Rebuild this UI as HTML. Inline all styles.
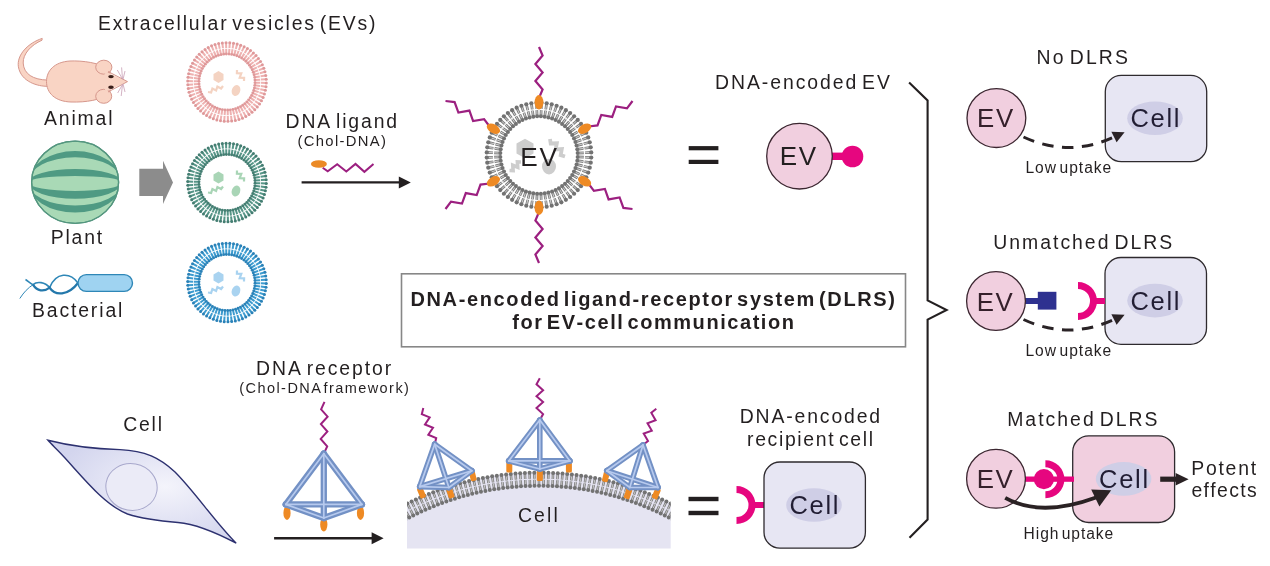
<!DOCTYPE html>
<html><head><meta charset="utf-8"><style>
html,body{margin:0;padding:0;background:#fff;}
svg{display:block;will-change:transform;font-family:"Liberation Sans",sans-serif;font-kerning:none;}
</style></head><body>
<svg width="1270" height="566" viewBox="0 0 1270 566">
<rect width="1270" height="566" fill="#ffffff"/>
<text x="98.01" y="29.60" font-size="19.4" letter-spacing="1.831" word-spacing="-3.43" fill="#231f20" >Extracellular vesicles (EVs)</text>
<path d="M48,86.3 C38,86.5 21,82 18.4,66.8 C16.5,55 28,43 42.2,38.4 L42,40.2 C31,45 22.8,54 23.2,63 C23.7,74 33,79.8 48,80.1 Z" fill="#f9d4c4" stroke="#d6978c" stroke-width="1"/>
<path d="M110,70 C100,62.5 82,60.5 70,61 C54,62 46.5,71 46.5,81.5 C46.5,93 55,101.5 71,102 C86,102.5 101,100 110,93.5 Z" fill="#f9d4c4" stroke="#d6978c" stroke-width="1"/>
<ellipse cx="103.8" cy="67.2" rx="8.1" ry="7" fill="#f9d4c4" stroke="#d6978c" stroke-width="1"/>
<ellipse cx="103.7" cy="96.3" rx="8" ry="7" fill="#f9d4c4" stroke="#d6978c" stroke-width="1"/>
<path d="M106,72 L127.5,81.6 L106,91.5 C102,86 102,77 106,72 Z" fill="#f9d4c4"/>
<path d="M108,71.5 L127.5,81.6 L108,92" fill="none" stroke="#d6978c" stroke-width="1"/>
<path d="M122.5,79 L117.3,70 M122.5,79 L121.6,67.4 M123,79.5 L125,71 M122.5,84.5 L117.7,93 M122.5,84.5 L121.2,96 M123,84 L125,92" stroke="#c9a0b5" stroke-width="0.8" fill="none"/>
<ellipse cx="111" cy="76.6" rx="2.8" ry="1.7" fill="#3a1f1a"/>
<ellipse cx="111" cy="87.3" rx="2.8" ry="1.7" fill="#3a1f1a"/>
<text x="44.06" y="125.40" font-size="19.4" letter-spacing="1.847" fill="#231f20" >Animal</text>
<ellipse cx="75.1" cy="182.3" rx="43.5" ry="41.1" fill="#a9d9b6" stroke="#54967f" stroke-width="1.3"/>
<clipPath id="wm"><ellipse cx="75.1" cy="182.3" rx="43.3" ry="40.9"/></clipPath>
<g clip-path="url(#wm)">
<path d="M28.099999999999994,182.3 A47,31.2 0 0 1 122.1,182.3 A47,25.0 0 0 0 28.099999999999994,182.3 Z" fill="#4f9a83"/>
<path d="M28.099999999999994,182.3 A47,13.2 0 0 1 122.1,182.3 A47,6.3 0 0 0 28.099999999999994,182.3 Z" fill="#4f9a83"/>
<path d="M28.099999999999994,182.3 A47,8.7 0 0 0 122.1,182.3 A47,16.4 0 0 1 28.099999999999994,182.3 Z" fill="#4f9a83"/>
<path d="M28.099999999999994,182.3 A47,23.3 0 0 0 122.1,182.3 A47,30.3 0 0 1 28.099999999999994,182.3 Z" fill="#4f9a83"/>
</g>
<ellipse cx="75.1" cy="182.3" rx="43.5" ry="41.1" fill="none" stroke="#54967f" stroke-width="1.3"/>
<text x="50.71" y="243.90" font-size="19.4" letter-spacing="1.804" fill="#231f20" >Plant</text>
<path d="M78,283 C70,272 56,272 49.6,287.6 C45,282 37,281 33,284.7 C30,283 28,281 25.5,279.5" fill="none" stroke="#2f87b7" stroke-width="1.6"/>
<path d="M78,283 C68,296 55,296 49.6,287.6 C44,292 37,291.3 33,284.7" fill="none" stroke="#2478ab" stroke-width="2.3"/>
<path d="M33,284.7 C28,288 24,292 19.8,298.5" fill="none" stroke="#2f87b7" stroke-width="1"/>
<rect x="78" y="274.6" width="54.5" height="16.8" rx="8.4" fill="#9fd3f1" stroke="#2f87b7" stroke-width="1.4"/>
<text x="31.91" y="316.80" font-size="19.4" letter-spacing="1.876" fill="#231f20" >Bacterial</text>
<path d="M139.3,168.8 L163,168.8 L163,160.7 L173,182.4 L163,204 L163,196 L139.3,196 Z" fill="#8c8c8c"/>
<g stroke="#eeb1b0" stroke-width="2"><line x1="266.29" y1="82.94" x2="261.04" y2="82.81"/><line x1="254.99" y1="82.67" x2="260.24" y2="82.79"/><line x1="266.02" y1="86.67" x2="260.81" y2="86.04"/><line x1="254.80" y1="85.32" x2="260.01" y2="85.95"/><line x1="265.40" y1="90.35" x2="260.27" y2="89.24"/><line x1="254.36" y1="87.95" x2="259.49" y2="89.07"/><line x1="264.43" y1="93.97" x2="259.43" y2="92.37"/><line x1="253.67" y1="90.53" x2="258.67" y2="92.12"/><line x1="263.13" y1="97.47" x2="258.30" y2="95.40"/><line x1="252.74" y1="93.02" x2="257.57" y2="95.09"/><line x1="261.49" y1="100.83" x2="256.88" y2="98.32"/><line x1="251.58" y1="95.42" x2="256.18" y2="97.94"/><line x1="259.55" y1="104.03" x2="255.20" y2="101.09"/><line x1="250.19" y1="97.69" x2="254.54" y2="100.64"/><line x1="257.31" y1="107.02" x2="253.26" y2="103.68"/><line x1="248.59" y1="99.83" x2="252.64" y2="103.17"/><line x1="254.79" y1="109.79" x2="251.08" y2="106.08"/><line x1="246.80" y1="101.80" x2="250.51" y2="105.51"/><line x1="252.02" y1="112.31" x2="248.68" y2="108.26"/><line x1="244.83" y1="103.59" x2="248.17" y2="107.64"/><line x1="249.03" y1="114.55" x2="246.09" y2="110.20"/><line x1="242.69" y1="105.19" x2="245.64" y2="109.54"/><line x1="245.83" y1="116.49" x2="243.32" y2="111.88"/><line x1="240.42" y1="106.58" x2="242.94" y2="111.18"/><line x1="242.47" y1="118.13" x2="240.40" y2="113.30"/><line x1="238.02" y1="107.74" x2="240.09" y2="112.57"/><line x1="238.97" y1="119.43" x2="237.37" y2="114.43"/><line x1="235.53" y1="108.67" x2="237.12" y2="113.67"/><line x1="235.35" y1="120.40" x2="234.24" y2="115.27"/><line x1="232.95" y1="109.36" x2="234.07" y2="114.49"/><line x1="231.67" y1="121.02" x2="231.04" y2="115.81"/><line x1="230.32" y1="109.80" x2="230.95" y2="115.01"/><line x1="227.94" y1="121.29" x2="227.81" y2="116.04"/><line x1="227.67" y1="109.99" x2="227.79" y2="115.24"/><line x1="224.20" y1="121.20" x2="224.57" y2="115.96"/><line x1="225.00" y1="109.93" x2="224.63" y2="115.17"/><line x1="220.48" y1="120.76" x2="221.35" y2="115.58"/><line x1="222.36" y1="109.61" x2="221.49" y2="114.79"/><line x1="216.83" y1="119.96" x2="218.19" y2="114.89"/><line x1="219.75" y1="109.05" x2="218.39" y2="114.12"/><line x1="213.27" y1="118.82" x2="215.10" y2="113.90"/><line x1="217.22" y1="108.23" x2="215.38" y2="113.15"/><line x1="209.83" y1="117.35" x2="212.12" y2="112.63"/><line x1="214.77" y1="107.19" x2="212.47" y2="111.91"/><line x1="206.55" y1="115.56" x2="209.28" y2="111.07"/><line x1="212.43" y1="105.91" x2="209.69" y2="110.39"/><line x1="203.45" y1="113.46" x2="206.59" y2="109.26"/><line x1="210.22" y1="104.42" x2="207.07" y2="108.62"/><line x1="200.56" y1="111.08" x2="204.10" y2="107.20"/><line x1="208.17" y1="102.72" x2="204.63" y2="106.60"/><line x1="197.92" y1="108.44" x2="201.80" y2="104.90"/><line x1="206.28" y1="100.83" x2="202.40" y2="104.37"/><line x1="195.54" y1="105.55" x2="199.74" y2="102.41"/><line x1="204.58" y1="98.78" x2="200.38" y2="101.93"/><line x1="193.44" y1="102.45" x2="197.93" y2="99.72"/><line x1="203.09" y1="96.57" x2="198.61" y2="99.31"/><line x1="191.65" y1="99.17" x2="196.37" y2="96.88"/><line x1="201.81" y1="94.23" x2="197.09" y2="96.53"/><line x1="190.18" y1="95.73" x2="195.10" y2="93.90"/><line x1="200.77" y1="91.78" x2="195.85" y2="93.62"/><line x1="189.04" y1="92.17" x2="194.11" y2="90.81"/><line x1="199.95" y1="89.25" x2="194.88" y2="90.61"/><line x1="188.24" y1="88.52" x2="193.42" y2="87.65"/><line x1="199.39" y1="86.64" x2="194.21" y2="87.51"/><line x1="187.80" y1="84.80" x2="193.04" y2="84.43"/><line x1="199.07" y1="84.00" x2="193.83" y2="84.37"/><line x1="187.71" y1="81.06" x2="192.96" y2="81.19"/><line x1="199.01" y1="81.33" x2="193.76" y2="81.21"/><line x1="187.98" y1="77.33" x2="193.19" y2="77.96"/><line x1="199.20" y1="78.68" x2="193.99" y2="78.05"/><line x1="188.60" y1="73.65" x2="193.73" y2="74.76"/><line x1="199.64" y1="76.05" x2="194.51" y2="74.93"/><line x1="189.57" y1="70.03" x2="194.57" y2="71.63"/><line x1="200.33" y1="73.47" x2="195.33" y2="71.88"/><line x1="190.87" y1="66.53" x2="195.70" y2="68.60"/><line x1="201.26" y1="70.98" x2="196.43" y2="68.91"/><line x1="192.51" y1="63.17" x2="197.12" y2="65.68"/><line x1="202.42" y1="68.58" x2="197.82" y2="66.06"/><line x1="194.45" y1="59.97" x2="198.80" y2="62.91"/><line x1="203.81" y1="66.31" x2="199.46" y2="63.36"/><line x1="196.69" y1="56.98" x2="200.74" y2="60.32"/><line x1="205.41" y1="64.17" x2="201.36" y2="60.83"/><line x1="199.21" y1="54.21" x2="202.92" y2="57.92"/><line x1="207.20" y1="62.20" x2="203.49" y2="58.49"/><line x1="201.98" y1="51.69" x2="205.32" y2="55.74"/><line x1="209.17" y1="60.41" x2="205.83" y2="56.36"/><line x1="204.97" y1="49.45" x2="207.91" y2="53.80"/><line x1="211.31" y1="58.81" x2="208.36" y2="54.46"/><line x1="208.17" y1="47.51" x2="210.68" y2="52.12"/><line x1="213.58" y1="57.42" x2="211.06" y2="52.82"/><line x1="211.53" y1="45.87" x2="213.60" y2="50.70"/><line x1="215.98" y1="56.26" x2="213.91" y2="51.43"/><line x1="215.03" y1="44.57" x2="216.63" y2="49.57"/><line x1="218.47" y1="55.33" x2="216.88" y2="50.33"/><line x1="218.65" y1="43.60" x2="219.76" y2="48.73"/><line x1="221.05" y1="54.64" x2="219.93" y2="49.51"/><line x1="222.33" y1="42.98" x2="222.96" y2="48.19"/><line x1="223.68" y1="54.20" x2="223.05" y2="48.99"/><line x1="226.06" y1="42.71" x2="226.19" y2="47.96"/><line x1="226.33" y1="54.01" x2="226.21" y2="48.76"/><line x1="229.80" y1="42.80" x2="229.43" y2="48.04"/><line x1="229.00" y1="54.07" x2="229.37" y2="48.83"/><line x1="233.52" y1="43.24" x2="232.65" y2="48.42"/><line x1="231.64" y1="54.39" x2="232.51" y2="49.21"/><line x1="237.17" y1="44.04" x2="235.81" y2="49.11"/><line x1="234.25" y1="54.95" x2="235.61" y2="49.88"/><line x1="240.73" y1="45.18" x2="238.90" y2="50.10"/><line x1="236.78" y1="55.77" x2="238.62" y2="50.85"/><line x1="244.17" y1="46.65" x2="241.88" y2="51.37"/><line x1="239.23" y1="56.81" x2="241.53" y2="52.09"/><line x1="247.45" y1="48.44" x2="244.72" y2="52.93"/><line x1="241.57" y1="58.09" x2="244.31" y2="53.61"/><line x1="250.55" y1="50.54" x2="247.41" y2="54.74"/><line x1="243.78" y1="59.58" x2="246.93" y2="55.38"/><line x1="253.44" y1="52.92" x2="249.90" y2="56.80"/><line x1="245.83" y1="61.28" x2="249.37" y2="57.40"/><line x1="256.08" y1="55.56" x2="252.20" y2="59.10"/><line x1="247.72" y1="63.17" x2="251.60" y2="59.63"/><line x1="258.46" y1="58.45" x2="254.26" y2="61.59"/><line x1="249.42" y1="65.22" x2="253.62" y2="62.07"/><line x1="260.56" y1="61.55" x2="256.07" y2="64.28"/><line x1="250.91" y1="67.43" x2="255.39" y2="64.69"/><line x1="262.35" y1="64.83" x2="257.63" y2="67.12"/><line x1="252.19" y1="69.77" x2="256.91" y2="67.47"/><line x1="263.82" y1="68.27" x2="258.90" y2="70.10"/><line x1="253.23" y1="72.22" x2="258.15" y2="70.38"/><line x1="264.96" y1="71.83" x2="259.89" y2="73.19"/><line x1="254.05" y1="74.75" x2="259.12" y2="73.39"/><line x1="265.76" y1="75.48" x2="260.58" y2="76.35"/><line x1="254.61" y1="77.36" x2="259.79" y2="76.49"/><line x1="266.20" y1="79.20" x2="260.96" y2="79.57"/><line x1="254.93" y1="80.00" x2="260.17" y2="79.63"/></g>
<g fill="#df9899"><circle cx="266.29" cy="82.94" r="1.5"/><circle cx="254.99" cy="82.67" r="1.42"/><circle cx="266.02" cy="86.67" r="1.5"/><circle cx="254.80" cy="85.32" r="1.42"/><circle cx="265.40" cy="90.35" r="1.5"/><circle cx="254.36" cy="87.95" r="1.42"/><circle cx="264.43" cy="93.97" r="1.5"/><circle cx="253.67" cy="90.53" r="1.42"/><circle cx="263.13" cy="97.47" r="1.5"/><circle cx="252.74" cy="93.02" r="1.42"/><circle cx="261.49" cy="100.83" r="1.5"/><circle cx="251.58" cy="95.42" r="1.42"/><circle cx="259.55" cy="104.03" r="1.5"/><circle cx="250.19" cy="97.69" r="1.42"/><circle cx="257.31" cy="107.02" r="1.5"/><circle cx="248.59" cy="99.83" r="1.42"/><circle cx="254.79" cy="109.79" r="1.5"/><circle cx="246.80" cy="101.80" r="1.42"/><circle cx="252.02" cy="112.31" r="1.5"/><circle cx="244.83" cy="103.59" r="1.42"/><circle cx="249.03" cy="114.55" r="1.5"/><circle cx="242.69" cy="105.19" r="1.42"/><circle cx="245.83" cy="116.49" r="1.5"/><circle cx="240.42" cy="106.58" r="1.42"/><circle cx="242.47" cy="118.13" r="1.5"/><circle cx="238.02" cy="107.74" r="1.42"/><circle cx="238.97" cy="119.43" r="1.5"/><circle cx="235.53" cy="108.67" r="1.42"/><circle cx="235.35" cy="120.40" r="1.5"/><circle cx="232.95" cy="109.36" r="1.42"/><circle cx="231.67" cy="121.02" r="1.5"/><circle cx="230.32" cy="109.80" r="1.42"/><circle cx="227.94" cy="121.29" r="1.5"/><circle cx="227.67" cy="109.99" r="1.42"/><circle cx="224.20" cy="121.20" r="1.5"/><circle cx="225.00" cy="109.93" r="1.42"/><circle cx="220.48" cy="120.76" r="1.5"/><circle cx="222.36" cy="109.61" r="1.42"/><circle cx="216.83" cy="119.96" r="1.5"/><circle cx="219.75" cy="109.05" r="1.42"/><circle cx="213.27" cy="118.82" r="1.5"/><circle cx="217.22" cy="108.23" r="1.42"/><circle cx="209.83" cy="117.35" r="1.5"/><circle cx="214.77" cy="107.19" r="1.42"/><circle cx="206.55" cy="115.56" r="1.5"/><circle cx="212.43" cy="105.91" r="1.42"/><circle cx="203.45" cy="113.46" r="1.5"/><circle cx="210.22" cy="104.42" r="1.42"/><circle cx="200.56" cy="111.08" r="1.5"/><circle cx="208.17" cy="102.72" r="1.42"/><circle cx="197.92" cy="108.44" r="1.5"/><circle cx="206.28" cy="100.83" r="1.42"/><circle cx="195.54" cy="105.55" r="1.5"/><circle cx="204.58" cy="98.78" r="1.42"/><circle cx="193.44" cy="102.45" r="1.5"/><circle cx="203.09" cy="96.57" r="1.42"/><circle cx="191.65" cy="99.17" r="1.5"/><circle cx="201.81" cy="94.23" r="1.42"/><circle cx="190.18" cy="95.73" r="1.5"/><circle cx="200.77" cy="91.78" r="1.42"/><circle cx="189.04" cy="92.17" r="1.5"/><circle cx="199.95" cy="89.25" r="1.42"/><circle cx="188.24" cy="88.52" r="1.5"/><circle cx="199.39" cy="86.64" r="1.42"/><circle cx="187.80" cy="84.80" r="1.5"/><circle cx="199.07" cy="84.00" r="1.42"/><circle cx="187.71" cy="81.06" r="1.5"/><circle cx="199.01" cy="81.33" r="1.42"/><circle cx="187.98" cy="77.33" r="1.5"/><circle cx="199.20" cy="78.68" r="1.42"/><circle cx="188.60" cy="73.65" r="1.5"/><circle cx="199.64" cy="76.05" r="1.42"/><circle cx="189.57" cy="70.03" r="1.5"/><circle cx="200.33" cy="73.47" r="1.42"/><circle cx="190.87" cy="66.53" r="1.5"/><circle cx="201.26" cy="70.98" r="1.42"/><circle cx="192.51" cy="63.17" r="1.5"/><circle cx="202.42" cy="68.58" r="1.42"/><circle cx="194.45" cy="59.97" r="1.5"/><circle cx="203.81" cy="66.31" r="1.42"/><circle cx="196.69" cy="56.98" r="1.5"/><circle cx="205.41" cy="64.17" r="1.42"/><circle cx="199.21" cy="54.21" r="1.5"/><circle cx="207.20" cy="62.20" r="1.42"/><circle cx="201.98" cy="51.69" r="1.5"/><circle cx="209.17" cy="60.41" r="1.42"/><circle cx="204.97" cy="49.45" r="1.5"/><circle cx="211.31" cy="58.81" r="1.42"/><circle cx="208.17" cy="47.51" r="1.5"/><circle cx="213.58" cy="57.42" r="1.42"/><circle cx="211.53" cy="45.87" r="1.5"/><circle cx="215.98" cy="56.26" r="1.42"/><circle cx="215.03" cy="44.57" r="1.5"/><circle cx="218.47" cy="55.33" r="1.42"/><circle cx="218.65" cy="43.60" r="1.5"/><circle cx="221.05" cy="54.64" r="1.42"/><circle cx="222.33" cy="42.98" r="1.5"/><circle cx="223.68" cy="54.20" r="1.42"/><circle cx="226.06" cy="42.71" r="1.5"/><circle cx="226.33" cy="54.01" r="1.42"/><circle cx="229.80" cy="42.80" r="1.5"/><circle cx="229.00" cy="54.07" r="1.42"/><circle cx="233.52" cy="43.24" r="1.5"/><circle cx="231.64" cy="54.39" r="1.42"/><circle cx="237.17" cy="44.04" r="1.5"/><circle cx="234.25" cy="54.95" r="1.42"/><circle cx="240.73" cy="45.18" r="1.5"/><circle cx="236.78" cy="55.77" r="1.42"/><circle cx="244.17" cy="46.65" r="1.5"/><circle cx="239.23" cy="56.81" r="1.42"/><circle cx="247.45" cy="48.44" r="1.5"/><circle cx="241.57" cy="58.09" r="1.42"/><circle cx="250.55" cy="50.54" r="1.5"/><circle cx="243.78" cy="59.58" r="1.42"/><circle cx="253.44" cy="52.92" r="1.5"/><circle cx="245.83" cy="61.28" r="1.42"/><circle cx="256.08" cy="55.56" r="1.5"/><circle cx="247.72" cy="63.17" r="1.42"/><circle cx="258.46" cy="58.45" r="1.5"/><circle cx="249.42" cy="65.22" r="1.42"/><circle cx="260.56" cy="61.55" r="1.5"/><circle cx="250.91" cy="67.43" r="1.42"/><circle cx="262.35" cy="64.83" r="1.5"/><circle cx="252.19" cy="69.77" r="1.42"/><circle cx="263.82" cy="68.27" r="1.5"/><circle cx="253.23" cy="72.22" r="1.42"/><circle cx="264.96" cy="71.83" r="1.5"/><circle cx="254.05" cy="74.75" r="1.42"/><circle cx="265.76" cy="75.48" r="1.5"/><circle cx="254.61" cy="77.36" r="1.42"/><circle cx="266.20" cy="79.20" r="1.5"/><circle cx="254.93" cy="80.00" r="1.42"/></g>
<g fill="#f4d3c2" stroke="none">
<path d="M213.5,74 l5,-3 l5,3 l0,6 l-5,3 l-5,-3 Z"/>
<ellipse cx="236" cy="90.5" rx="4.2" ry="5.6" transform="rotate(20 236 90.5)"/>
</g>
<polyline points="208.0,92.0 211.1,92.5 212.4,88.5 216.1,90.5 217.4,86.5 221.1,88.5 223.0,86.0" fill="none" stroke="#f4d3c2" stroke-width="2.2"/>
<polyline points="237.0,70.0 236.9,73.2 241.3,73.4 239.7,77.6 244.1,77.8 244.0,81.0" fill="none" stroke="#f4d3c2" stroke-width="2.2"/>
<g stroke="#569587" stroke-width="2"><line x1="266.29" y1="183.44" x2="261.04" y2="183.31"/><line x1="254.99" y1="183.17" x2="260.24" y2="183.29"/><line x1="266.02" y1="187.17" x2="260.81" y2="186.54"/><line x1="254.80" y1="185.82" x2="260.01" y2="186.45"/><line x1="265.40" y1="190.85" x2="260.27" y2="189.74"/><line x1="254.36" y1="188.45" x2="259.49" y2="189.57"/><line x1="264.43" y1="194.47" x2="259.43" y2="192.87"/><line x1="253.67" y1="191.03" x2="258.67" y2="192.62"/><line x1="263.13" y1="197.97" x2="258.30" y2="195.90"/><line x1="252.74" y1="193.52" x2="257.57" y2="195.59"/><line x1="261.49" y1="201.33" x2="256.88" y2="198.82"/><line x1="251.58" y1="195.92" x2="256.18" y2="198.44"/><line x1="259.55" y1="204.53" x2="255.20" y2="201.59"/><line x1="250.19" y1="198.19" x2="254.54" y2="201.14"/><line x1="257.31" y1="207.52" x2="253.26" y2="204.18"/><line x1="248.59" y1="200.33" x2="252.64" y2="203.67"/><line x1="254.79" y1="210.29" x2="251.08" y2="206.58"/><line x1="246.80" y1="202.30" x2="250.51" y2="206.01"/><line x1="252.02" y1="212.81" x2="248.68" y2="208.76"/><line x1="244.83" y1="204.09" x2="248.17" y2="208.14"/><line x1="249.03" y1="215.05" x2="246.09" y2="210.70"/><line x1="242.69" y1="205.69" x2="245.64" y2="210.04"/><line x1="245.83" y1="216.99" x2="243.32" y2="212.38"/><line x1="240.42" y1="207.08" x2="242.94" y2="211.68"/><line x1="242.47" y1="218.63" x2="240.40" y2="213.80"/><line x1="238.02" y1="208.24" x2="240.09" y2="213.07"/><line x1="238.97" y1="219.93" x2="237.37" y2="214.93"/><line x1="235.53" y1="209.17" x2="237.12" y2="214.17"/><line x1="235.35" y1="220.90" x2="234.24" y2="215.77"/><line x1="232.95" y1="209.86" x2="234.07" y2="214.99"/><line x1="231.67" y1="221.52" x2="231.04" y2="216.31"/><line x1="230.32" y1="210.30" x2="230.95" y2="215.51"/><line x1="227.94" y1="221.79" x2="227.81" y2="216.54"/><line x1="227.67" y1="210.49" x2="227.79" y2="215.74"/><line x1="224.20" y1="221.70" x2="224.57" y2="216.46"/><line x1="225.00" y1="210.43" x2="224.63" y2="215.67"/><line x1="220.48" y1="221.26" x2="221.35" y2="216.08"/><line x1="222.36" y1="210.11" x2="221.49" y2="215.29"/><line x1="216.83" y1="220.46" x2="218.19" y2="215.39"/><line x1="219.75" y1="209.55" x2="218.39" y2="214.62"/><line x1="213.27" y1="219.32" x2="215.10" y2="214.40"/><line x1="217.22" y1="208.73" x2="215.38" y2="213.65"/><line x1="209.83" y1="217.85" x2="212.12" y2="213.13"/><line x1="214.77" y1="207.69" x2="212.47" y2="212.41"/><line x1="206.55" y1="216.06" x2="209.28" y2="211.57"/><line x1="212.43" y1="206.41" x2="209.69" y2="210.89"/><line x1="203.45" y1="213.96" x2="206.59" y2="209.76"/><line x1="210.22" y1="204.92" x2="207.07" y2="209.12"/><line x1="200.56" y1="211.58" x2="204.10" y2="207.70"/><line x1="208.17" y1="203.22" x2="204.63" y2="207.10"/><line x1="197.92" y1="208.94" x2="201.80" y2="205.40"/><line x1="206.28" y1="201.33" x2="202.40" y2="204.87"/><line x1="195.54" y1="206.05" x2="199.74" y2="202.91"/><line x1="204.58" y1="199.28" x2="200.38" y2="202.43"/><line x1="193.44" y1="202.95" x2="197.93" y2="200.22"/><line x1="203.09" y1="197.07" x2="198.61" y2="199.81"/><line x1="191.65" y1="199.67" x2="196.37" y2="197.38"/><line x1="201.81" y1="194.73" x2="197.09" y2="197.03"/><line x1="190.18" y1="196.23" x2="195.10" y2="194.40"/><line x1="200.77" y1="192.28" x2="195.85" y2="194.12"/><line x1="189.04" y1="192.67" x2="194.11" y2="191.31"/><line x1="199.95" y1="189.75" x2="194.88" y2="191.11"/><line x1="188.24" y1="189.02" x2="193.42" y2="188.15"/><line x1="199.39" y1="187.14" x2="194.21" y2="188.01"/><line x1="187.80" y1="185.30" x2="193.04" y2="184.93"/><line x1="199.07" y1="184.50" x2="193.83" y2="184.87"/><line x1="187.71" y1="181.56" x2="192.96" y2="181.69"/><line x1="199.01" y1="181.83" x2="193.76" y2="181.71"/><line x1="187.98" y1="177.83" x2="193.19" y2="178.46"/><line x1="199.20" y1="179.18" x2="193.99" y2="178.55"/><line x1="188.60" y1="174.15" x2="193.73" y2="175.26"/><line x1="199.64" y1="176.55" x2="194.51" y2="175.43"/><line x1="189.57" y1="170.53" x2="194.57" y2="172.13"/><line x1="200.33" y1="173.97" x2="195.33" y2="172.38"/><line x1="190.87" y1="167.03" x2="195.70" y2="169.10"/><line x1="201.26" y1="171.48" x2="196.43" y2="169.41"/><line x1="192.51" y1="163.67" x2="197.12" y2="166.18"/><line x1="202.42" y1="169.08" x2="197.82" y2="166.56"/><line x1="194.45" y1="160.47" x2="198.80" y2="163.41"/><line x1="203.81" y1="166.81" x2="199.46" y2="163.86"/><line x1="196.69" y1="157.48" x2="200.74" y2="160.82"/><line x1="205.41" y1="164.67" x2="201.36" y2="161.33"/><line x1="199.21" y1="154.71" x2="202.92" y2="158.42"/><line x1="207.20" y1="162.70" x2="203.49" y2="158.99"/><line x1="201.98" y1="152.19" x2="205.32" y2="156.24"/><line x1="209.17" y1="160.91" x2="205.83" y2="156.86"/><line x1="204.97" y1="149.95" x2="207.91" y2="154.30"/><line x1="211.31" y1="159.31" x2="208.36" y2="154.96"/><line x1="208.17" y1="148.01" x2="210.68" y2="152.62"/><line x1="213.58" y1="157.92" x2="211.06" y2="153.32"/><line x1="211.53" y1="146.37" x2="213.60" y2="151.20"/><line x1="215.98" y1="156.76" x2="213.91" y2="151.93"/><line x1="215.03" y1="145.07" x2="216.63" y2="150.07"/><line x1="218.47" y1="155.83" x2="216.88" y2="150.83"/><line x1="218.65" y1="144.10" x2="219.76" y2="149.23"/><line x1="221.05" y1="155.14" x2="219.93" y2="150.01"/><line x1="222.33" y1="143.48" x2="222.96" y2="148.69"/><line x1="223.68" y1="154.70" x2="223.05" y2="149.49"/><line x1="226.06" y1="143.21" x2="226.19" y2="148.46"/><line x1="226.33" y1="154.51" x2="226.21" y2="149.26"/><line x1="229.80" y1="143.30" x2="229.43" y2="148.54"/><line x1="229.00" y1="154.57" x2="229.37" y2="149.33"/><line x1="233.52" y1="143.74" x2="232.65" y2="148.92"/><line x1="231.64" y1="154.89" x2="232.51" y2="149.71"/><line x1="237.17" y1="144.54" x2="235.81" y2="149.61"/><line x1="234.25" y1="155.45" x2="235.61" y2="150.38"/><line x1="240.73" y1="145.68" x2="238.90" y2="150.60"/><line x1="236.78" y1="156.27" x2="238.62" y2="151.35"/><line x1="244.17" y1="147.15" x2="241.88" y2="151.87"/><line x1="239.23" y1="157.31" x2="241.53" y2="152.59"/><line x1="247.45" y1="148.94" x2="244.72" y2="153.43"/><line x1="241.57" y1="158.59" x2="244.31" y2="154.11"/><line x1="250.55" y1="151.04" x2="247.41" y2="155.24"/><line x1="243.78" y1="160.08" x2="246.93" y2="155.88"/><line x1="253.44" y1="153.42" x2="249.90" y2="157.30"/><line x1="245.83" y1="161.78" x2="249.37" y2="157.90"/><line x1="256.08" y1="156.06" x2="252.20" y2="159.60"/><line x1="247.72" y1="163.67" x2="251.60" y2="160.13"/><line x1="258.46" y1="158.95" x2="254.26" y2="162.09"/><line x1="249.42" y1="165.72" x2="253.62" y2="162.57"/><line x1="260.56" y1="162.05" x2="256.07" y2="164.78"/><line x1="250.91" y1="167.93" x2="255.39" y2="165.19"/><line x1="262.35" y1="165.33" x2="257.63" y2="167.62"/><line x1="252.19" y1="170.27" x2="256.91" y2="167.97"/><line x1="263.82" y1="168.77" x2="258.90" y2="170.60"/><line x1="253.23" y1="172.72" x2="258.15" y2="170.88"/><line x1="264.96" y1="172.33" x2="259.89" y2="173.69"/><line x1="254.05" y1="175.25" x2="259.12" y2="173.89"/><line x1="265.76" y1="175.98" x2="260.58" y2="176.85"/><line x1="254.61" y1="177.86" x2="259.79" y2="176.99"/><line x1="266.20" y1="179.70" x2="260.96" y2="180.07"/><line x1="254.93" y1="180.50" x2="260.17" y2="180.13"/></g>
<g fill="#447e72"><circle cx="266.29" cy="183.44" r="1.5"/><circle cx="254.99" cy="183.17" r="1.42"/><circle cx="266.02" cy="187.17" r="1.5"/><circle cx="254.80" cy="185.82" r="1.42"/><circle cx="265.40" cy="190.85" r="1.5"/><circle cx="254.36" cy="188.45" r="1.42"/><circle cx="264.43" cy="194.47" r="1.5"/><circle cx="253.67" cy="191.03" r="1.42"/><circle cx="263.13" cy="197.97" r="1.5"/><circle cx="252.74" cy="193.52" r="1.42"/><circle cx="261.49" cy="201.33" r="1.5"/><circle cx="251.58" cy="195.92" r="1.42"/><circle cx="259.55" cy="204.53" r="1.5"/><circle cx="250.19" cy="198.19" r="1.42"/><circle cx="257.31" cy="207.52" r="1.5"/><circle cx="248.59" cy="200.33" r="1.42"/><circle cx="254.79" cy="210.29" r="1.5"/><circle cx="246.80" cy="202.30" r="1.42"/><circle cx="252.02" cy="212.81" r="1.5"/><circle cx="244.83" cy="204.09" r="1.42"/><circle cx="249.03" cy="215.05" r="1.5"/><circle cx="242.69" cy="205.69" r="1.42"/><circle cx="245.83" cy="216.99" r="1.5"/><circle cx="240.42" cy="207.08" r="1.42"/><circle cx="242.47" cy="218.63" r="1.5"/><circle cx="238.02" cy="208.24" r="1.42"/><circle cx="238.97" cy="219.93" r="1.5"/><circle cx="235.53" cy="209.17" r="1.42"/><circle cx="235.35" cy="220.90" r="1.5"/><circle cx="232.95" cy="209.86" r="1.42"/><circle cx="231.67" cy="221.52" r="1.5"/><circle cx="230.32" cy="210.30" r="1.42"/><circle cx="227.94" cy="221.79" r="1.5"/><circle cx="227.67" cy="210.49" r="1.42"/><circle cx="224.20" cy="221.70" r="1.5"/><circle cx="225.00" cy="210.43" r="1.42"/><circle cx="220.48" cy="221.26" r="1.5"/><circle cx="222.36" cy="210.11" r="1.42"/><circle cx="216.83" cy="220.46" r="1.5"/><circle cx="219.75" cy="209.55" r="1.42"/><circle cx="213.27" cy="219.32" r="1.5"/><circle cx="217.22" cy="208.73" r="1.42"/><circle cx="209.83" cy="217.85" r="1.5"/><circle cx="214.77" cy="207.69" r="1.42"/><circle cx="206.55" cy="216.06" r="1.5"/><circle cx="212.43" cy="206.41" r="1.42"/><circle cx="203.45" cy="213.96" r="1.5"/><circle cx="210.22" cy="204.92" r="1.42"/><circle cx="200.56" cy="211.58" r="1.5"/><circle cx="208.17" cy="203.22" r="1.42"/><circle cx="197.92" cy="208.94" r="1.5"/><circle cx="206.28" cy="201.33" r="1.42"/><circle cx="195.54" cy="206.05" r="1.5"/><circle cx="204.58" cy="199.28" r="1.42"/><circle cx="193.44" cy="202.95" r="1.5"/><circle cx="203.09" cy="197.07" r="1.42"/><circle cx="191.65" cy="199.67" r="1.5"/><circle cx="201.81" cy="194.73" r="1.42"/><circle cx="190.18" cy="196.23" r="1.5"/><circle cx="200.77" cy="192.28" r="1.42"/><circle cx="189.04" cy="192.67" r="1.5"/><circle cx="199.95" cy="189.75" r="1.42"/><circle cx="188.24" cy="189.02" r="1.5"/><circle cx="199.39" cy="187.14" r="1.42"/><circle cx="187.80" cy="185.30" r="1.5"/><circle cx="199.07" cy="184.50" r="1.42"/><circle cx="187.71" cy="181.56" r="1.5"/><circle cx="199.01" cy="181.83" r="1.42"/><circle cx="187.98" cy="177.83" r="1.5"/><circle cx="199.20" cy="179.18" r="1.42"/><circle cx="188.60" cy="174.15" r="1.5"/><circle cx="199.64" cy="176.55" r="1.42"/><circle cx="189.57" cy="170.53" r="1.5"/><circle cx="200.33" cy="173.97" r="1.42"/><circle cx="190.87" cy="167.03" r="1.5"/><circle cx="201.26" cy="171.48" r="1.42"/><circle cx="192.51" cy="163.67" r="1.5"/><circle cx="202.42" cy="169.08" r="1.42"/><circle cx="194.45" cy="160.47" r="1.5"/><circle cx="203.81" cy="166.81" r="1.42"/><circle cx="196.69" cy="157.48" r="1.5"/><circle cx="205.41" cy="164.67" r="1.42"/><circle cx="199.21" cy="154.71" r="1.5"/><circle cx="207.20" cy="162.70" r="1.42"/><circle cx="201.98" cy="152.19" r="1.5"/><circle cx="209.17" cy="160.91" r="1.42"/><circle cx="204.97" cy="149.95" r="1.5"/><circle cx="211.31" cy="159.31" r="1.42"/><circle cx="208.17" cy="148.01" r="1.5"/><circle cx="213.58" cy="157.92" r="1.42"/><circle cx="211.53" cy="146.37" r="1.5"/><circle cx="215.98" cy="156.76" r="1.42"/><circle cx="215.03" cy="145.07" r="1.5"/><circle cx="218.47" cy="155.83" r="1.42"/><circle cx="218.65" cy="144.10" r="1.5"/><circle cx="221.05" cy="155.14" r="1.42"/><circle cx="222.33" cy="143.48" r="1.5"/><circle cx="223.68" cy="154.70" r="1.42"/><circle cx="226.06" cy="143.21" r="1.5"/><circle cx="226.33" cy="154.51" r="1.42"/><circle cx="229.80" cy="143.30" r="1.5"/><circle cx="229.00" cy="154.57" r="1.42"/><circle cx="233.52" cy="143.74" r="1.5"/><circle cx="231.64" cy="154.89" r="1.42"/><circle cx="237.17" cy="144.54" r="1.5"/><circle cx="234.25" cy="155.45" r="1.42"/><circle cx="240.73" cy="145.68" r="1.5"/><circle cx="236.78" cy="156.27" r="1.42"/><circle cx="244.17" cy="147.15" r="1.5"/><circle cx="239.23" cy="157.31" r="1.42"/><circle cx="247.45" cy="148.94" r="1.5"/><circle cx="241.57" cy="158.59" r="1.42"/><circle cx="250.55" cy="151.04" r="1.5"/><circle cx="243.78" cy="160.08" r="1.42"/><circle cx="253.44" cy="153.42" r="1.5"/><circle cx="245.83" cy="161.78" r="1.42"/><circle cx="256.08" cy="156.06" r="1.5"/><circle cx="247.72" cy="163.67" r="1.42"/><circle cx="258.46" cy="158.95" r="1.5"/><circle cx="249.42" cy="165.72" r="1.42"/><circle cx="260.56" cy="162.05" r="1.5"/><circle cx="250.91" cy="167.93" r="1.42"/><circle cx="262.35" cy="165.33" r="1.5"/><circle cx="252.19" cy="170.27" r="1.42"/><circle cx="263.82" cy="168.77" r="1.5"/><circle cx="253.23" cy="172.72" r="1.42"/><circle cx="264.96" cy="172.33" r="1.5"/><circle cx="254.05" cy="175.25" r="1.42"/><circle cx="265.76" cy="175.98" r="1.5"/><circle cx="254.61" cy="177.86" r="1.42"/><circle cx="266.20" cy="179.70" r="1.5"/><circle cx="254.93" cy="180.50" r="1.42"/></g>
<g fill="#a9d5b6" stroke="none">
<path d="M213.5,174.5 l5,-3 l5,3 l0,6 l-5,3 l-5,-3 Z"/>
<ellipse cx="236" cy="191.0" rx="4.2" ry="5.6" transform="rotate(20 236 191.0)"/>
</g>
<polyline points="208.0,192.5 211.1,193.0 212.4,189.0 216.1,191.0 217.4,187.0 221.1,189.0 223.0,186.5" fill="none" stroke="#a9d5b6" stroke-width="2.2"/>
<polyline points="237.0,170.5 236.9,173.7 241.3,173.9 239.7,178.1 244.1,178.3 244.0,181.5" fill="none" stroke="#a9d5b6" stroke-width="2.2"/>
<g stroke="#3c9bcf" stroke-width="2"><line x1="266.29" y1="283.44" x2="261.04" y2="283.31"/><line x1="254.99" y1="283.17" x2="260.24" y2="283.29"/><line x1="266.02" y1="287.17" x2="260.81" y2="286.54"/><line x1="254.80" y1="285.82" x2="260.01" y2="286.45"/><line x1="265.40" y1="290.85" x2="260.27" y2="289.74"/><line x1="254.36" y1="288.45" x2="259.49" y2="289.57"/><line x1="264.43" y1="294.47" x2="259.43" y2="292.87"/><line x1="253.67" y1="291.03" x2="258.67" y2="292.62"/><line x1="263.13" y1="297.97" x2="258.30" y2="295.90"/><line x1="252.74" y1="293.52" x2="257.57" y2="295.59"/><line x1="261.49" y1="301.33" x2="256.88" y2="298.82"/><line x1="251.58" y1="295.92" x2="256.18" y2="298.44"/><line x1="259.55" y1="304.53" x2="255.20" y2="301.59"/><line x1="250.19" y1="298.19" x2="254.54" y2="301.14"/><line x1="257.31" y1="307.52" x2="253.26" y2="304.18"/><line x1="248.59" y1="300.33" x2="252.64" y2="303.67"/><line x1="254.79" y1="310.29" x2="251.08" y2="306.58"/><line x1="246.80" y1="302.30" x2="250.51" y2="306.01"/><line x1="252.02" y1="312.81" x2="248.68" y2="308.76"/><line x1="244.83" y1="304.09" x2="248.17" y2="308.14"/><line x1="249.03" y1="315.05" x2="246.09" y2="310.70"/><line x1="242.69" y1="305.69" x2="245.64" y2="310.04"/><line x1="245.83" y1="316.99" x2="243.32" y2="312.38"/><line x1="240.42" y1="307.08" x2="242.94" y2="311.68"/><line x1="242.47" y1="318.63" x2="240.40" y2="313.80"/><line x1="238.02" y1="308.24" x2="240.09" y2="313.07"/><line x1="238.97" y1="319.93" x2="237.37" y2="314.93"/><line x1="235.53" y1="309.17" x2="237.12" y2="314.17"/><line x1="235.35" y1="320.90" x2="234.24" y2="315.77"/><line x1="232.95" y1="309.86" x2="234.07" y2="314.99"/><line x1="231.67" y1="321.52" x2="231.04" y2="316.31"/><line x1="230.32" y1="310.30" x2="230.95" y2="315.51"/><line x1="227.94" y1="321.79" x2="227.81" y2="316.54"/><line x1="227.67" y1="310.49" x2="227.79" y2="315.74"/><line x1="224.20" y1="321.70" x2="224.57" y2="316.46"/><line x1="225.00" y1="310.43" x2="224.63" y2="315.67"/><line x1="220.48" y1="321.26" x2="221.35" y2="316.08"/><line x1="222.36" y1="310.11" x2="221.49" y2="315.29"/><line x1="216.83" y1="320.46" x2="218.19" y2="315.39"/><line x1="219.75" y1="309.55" x2="218.39" y2="314.62"/><line x1="213.27" y1="319.32" x2="215.10" y2="314.40"/><line x1="217.22" y1="308.73" x2="215.38" y2="313.65"/><line x1="209.83" y1="317.85" x2="212.12" y2="313.13"/><line x1="214.77" y1="307.69" x2="212.47" y2="312.41"/><line x1="206.55" y1="316.06" x2="209.28" y2="311.57"/><line x1="212.43" y1="306.41" x2="209.69" y2="310.89"/><line x1="203.45" y1="313.96" x2="206.59" y2="309.76"/><line x1="210.22" y1="304.92" x2="207.07" y2="309.12"/><line x1="200.56" y1="311.58" x2="204.10" y2="307.70"/><line x1="208.17" y1="303.22" x2="204.63" y2="307.10"/><line x1="197.92" y1="308.94" x2="201.80" y2="305.40"/><line x1="206.28" y1="301.33" x2="202.40" y2="304.87"/><line x1="195.54" y1="306.05" x2="199.74" y2="302.91"/><line x1="204.58" y1="299.28" x2="200.38" y2="302.43"/><line x1="193.44" y1="302.95" x2="197.93" y2="300.22"/><line x1="203.09" y1="297.07" x2="198.61" y2="299.81"/><line x1="191.65" y1="299.67" x2="196.37" y2="297.38"/><line x1="201.81" y1="294.73" x2="197.09" y2="297.03"/><line x1="190.18" y1="296.23" x2="195.10" y2="294.40"/><line x1="200.77" y1="292.28" x2="195.85" y2="294.12"/><line x1="189.04" y1="292.67" x2="194.11" y2="291.31"/><line x1="199.95" y1="289.75" x2="194.88" y2="291.11"/><line x1="188.24" y1="289.02" x2="193.42" y2="288.15"/><line x1="199.39" y1="287.14" x2="194.21" y2="288.01"/><line x1="187.80" y1="285.30" x2="193.04" y2="284.93"/><line x1="199.07" y1="284.50" x2="193.83" y2="284.87"/><line x1="187.71" y1="281.56" x2="192.96" y2="281.69"/><line x1="199.01" y1="281.83" x2="193.76" y2="281.71"/><line x1="187.98" y1="277.83" x2="193.19" y2="278.46"/><line x1="199.20" y1="279.18" x2="193.99" y2="278.55"/><line x1="188.60" y1="274.15" x2="193.73" y2="275.26"/><line x1="199.64" y1="276.55" x2="194.51" y2="275.43"/><line x1="189.57" y1="270.53" x2="194.57" y2="272.13"/><line x1="200.33" y1="273.97" x2="195.33" y2="272.38"/><line x1="190.87" y1="267.03" x2="195.70" y2="269.10"/><line x1="201.26" y1="271.48" x2="196.43" y2="269.41"/><line x1="192.51" y1="263.67" x2="197.12" y2="266.18"/><line x1="202.42" y1="269.08" x2="197.82" y2="266.56"/><line x1="194.45" y1="260.47" x2="198.80" y2="263.41"/><line x1="203.81" y1="266.81" x2="199.46" y2="263.86"/><line x1="196.69" y1="257.48" x2="200.74" y2="260.82"/><line x1="205.41" y1="264.67" x2="201.36" y2="261.33"/><line x1="199.21" y1="254.71" x2="202.92" y2="258.42"/><line x1="207.20" y1="262.70" x2="203.49" y2="258.99"/><line x1="201.98" y1="252.19" x2="205.32" y2="256.24"/><line x1="209.17" y1="260.91" x2="205.83" y2="256.86"/><line x1="204.97" y1="249.95" x2="207.91" y2="254.30"/><line x1="211.31" y1="259.31" x2="208.36" y2="254.96"/><line x1="208.17" y1="248.01" x2="210.68" y2="252.62"/><line x1="213.58" y1="257.92" x2="211.06" y2="253.32"/><line x1="211.53" y1="246.37" x2="213.60" y2="251.20"/><line x1="215.98" y1="256.76" x2="213.91" y2="251.93"/><line x1="215.03" y1="245.07" x2="216.63" y2="250.07"/><line x1="218.47" y1="255.83" x2="216.88" y2="250.83"/><line x1="218.65" y1="244.10" x2="219.76" y2="249.23"/><line x1="221.05" y1="255.14" x2="219.93" y2="250.01"/><line x1="222.33" y1="243.48" x2="222.96" y2="248.69"/><line x1="223.68" y1="254.70" x2="223.05" y2="249.49"/><line x1="226.06" y1="243.21" x2="226.19" y2="248.46"/><line x1="226.33" y1="254.51" x2="226.21" y2="249.26"/><line x1="229.80" y1="243.30" x2="229.43" y2="248.54"/><line x1="229.00" y1="254.57" x2="229.37" y2="249.33"/><line x1="233.52" y1="243.74" x2="232.65" y2="248.92"/><line x1="231.64" y1="254.89" x2="232.51" y2="249.71"/><line x1="237.17" y1="244.54" x2="235.81" y2="249.61"/><line x1="234.25" y1="255.45" x2="235.61" y2="250.38"/><line x1="240.73" y1="245.68" x2="238.90" y2="250.60"/><line x1="236.78" y1="256.27" x2="238.62" y2="251.35"/><line x1="244.17" y1="247.15" x2="241.88" y2="251.87"/><line x1="239.23" y1="257.31" x2="241.53" y2="252.59"/><line x1="247.45" y1="248.94" x2="244.72" y2="253.43"/><line x1="241.57" y1="258.59" x2="244.31" y2="254.11"/><line x1="250.55" y1="251.04" x2="247.41" y2="255.24"/><line x1="243.78" y1="260.08" x2="246.93" y2="255.88"/><line x1="253.44" y1="253.42" x2="249.90" y2="257.30"/><line x1="245.83" y1="261.78" x2="249.37" y2="257.90"/><line x1="256.08" y1="256.06" x2="252.20" y2="259.60"/><line x1="247.72" y1="263.67" x2="251.60" y2="260.13"/><line x1="258.46" y1="258.95" x2="254.26" y2="262.09"/><line x1="249.42" y1="265.72" x2="253.62" y2="262.57"/><line x1="260.56" y1="262.05" x2="256.07" y2="264.78"/><line x1="250.91" y1="267.93" x2="255.39" y2="265.19"/><line x1="262.35" y1="265.33" x2="257.63" y2="267.62"/><line x1="252.19" y1="270.27" x2="256.91" y2="267.97"/><line x1="263.82" y1="268.77" x2="258.90" y2="270.60"/><line x1="253.23" y1="272.72" x2="258.15" y2="270.88"/><line x1="264.96" y1="272.33" x2="259.89" y2="273.69"/><line x1="254.05" y1="275.25" x2="259.12" y2="273.89"/><line x1="265.76" y1="275.98" x2="260.58" y2="276.85"/><line x1="254.61" y1="277.86" x2="259.79" y2="276.99"/><line x1="266.20" y1="279.70" x2="260.96" y2="280.07"/><line x1="254.93" y1="280.50" x2="260.17" y2="280.13"/></g>
<g fill="#2a82b8"><circle cx="266.29" cy="283.44" r="1.5"/><circle cx="254.99" cy="283.17" r="1.42"/><circle cx="266.02" cy="287.17" r="1.5"/><circle cx="254.80" cy="285.82" r="1.42"/><circle cx="265.40" cy="290.85" r="1.5"/><circle cx="254.36" cy="288.45" r="1.42"/><circle cx="264.43" cy="294.47" r="1.5"/><circle cx="253.67" cy="291.03" r="1.42"/><circle cx="263.13" cy="297.97" r="1.5"/><circle cx="252.74" cy="293.52" r="1.42"/><circle cx="261.49" cy="301.33" r="1.5"/><circle cx="251.58" cy="295.92" r="1.42"/><circle cx="259.55" cy="304.53" r="1.5"/><circle cx="250.19" cy="298.19" r="1.42"/><circle cx="257.31" cy="307.52" r="1.5"/><circle cx="248.59" cy="300.33" r="1.42"/><circle cx="254.79" cy="310.29" r="1.5"/><circle cx="246.80" cy="302.30" r="1.42"/><circle cx="252.02" cy="312.81" r="1.5"/><circle cx="244.83" cy="304.09" r="1.42"/><circle cx="249.03" cy="315.05" r="1.5"/><circle cx="242.69" cy="305.69" r="1.42"/><circle cx="245.83" cy="316.99" r="1.5"/><circle cx="240.42" cy="307.08" r="1.42"/><circle cx="242.47" cy="318.63" r="1.5"/><circle cx="238.02" cy="308.24" r="1.42"/><circle cx="238.97" cy="319.93" r="1.5"/><circle cx="235.53" cy="309.17" r="1.42"/><circle cx="235.35" cy="320.90" r="1.5"/><circle cx="232.95" cy="309.86" r="1.42"/><circle cx="231.67" cy="321.52" r="1.5"/><circle cx="230.32" cy="310.30" r="1.42"/><circle cx="227.94" cy="321.79" r="1.5"/><circle cx="227.67" cy="310.49" r="1.42"/><circle cx="224.20" cy="321.70" r="1.5"/><circle cx="225.00" cy="310.43" r="1.42"/><circle cx="220.48" cy="321.26" r="1.5"/><circle cx="222.36" cy="310.11" r="1.42"/><circle cx="216.83" cy="320.46" r="1.5"/><circle cx="219.75" cy="309.55" r="1.42"/><circle cx="213.27" cy="319.32" r="1.5"/><circle cx="217.22" cy="308.73" r="1.42"/><circle cx="209.83" cy="317.85" r="1.5"/><circle cx="214.77" cy="307.69" r="1.42"/><circle cx="206.55" cy="316.06" r="1.5"/><circle cx="212.43" cy="306.41" r="1.42"/><circle cx="203.45" cy="313.96" r="1.5"/><circle cx="210.22" cy="304.92" r="1.42"/><circle cx="200.56" cy="311.58" r="1.5"/><circle cx="208.17" cy="303.22" r="1.42"/><circle cx="197.92" cy="308.94" r="1.5"/><circle cx="206.28" cy="301.33" r="1.42"/><circle cx="195.54" cy="306.05" r="1.5"/><circle cx="204.58" cy="299.28" r="1.42"/><circle cx="193.44" cy="302.95" r="1.5"/><circle cx="203.09" cy="297.07" r="1.42"/><circle cx="191.65" cy="299.67" r="1.5"/><circle cx="201.81" cy="294.73" r="1.42"/><circle cx="190.18" cy="296.23" r="1.5"/><circle cx="200.77" cy="292.28" r="1.42"/><circle cx="189.04" cy="292.67" r="1.5"/><circle cx="199.95" cy="289.75" r="1.42"/><circle cx="188.24" cy="289.02" r="1.5"/><circle cx="199.39" cy="287.14" r="1.42"/><circle cx="187.80" cy="285.30" r="1.5"/><circle cx="199.07" cy="284.50" r="1.42"/><circle cx="187.71" cy="281.56" r="1.5"/><circle cx="199.01" cy="281.83" r="1.42"/><circle cx="187.98" cy="277.83" r="1.5"/><circle cx="199.20" cy="279.18" r="1.42"/><circle cx="188.60" cy="274.15" r="1.5"/><circle cx="199.64" cy="276.55" r="1.42"/><circle cx="189.57" cy="270.53" r="1.5"/><circle cx="200.33" cy="273.97" r="1.42"/><circle cx="190.87" cy="267.03" r="1.5"/><circle cx="201.26" cy="271.48" r="1.42"/><circle cx="192.51" cy="263.67" r="1.5"/><circle cx="202.42" cy="269.08" r="1.42"/><circle cx="194.45" cy="260.47" r="1.5"/><circle cx="203.81" cy="266.81" r="1.42"/><circle cx="196.69" cy="257.48" r="1.5"/><circle cx="205.41" cy="264.67" r="1.42"/><circle cx="199.21" cy="254.71" r="1.5"/><circle cx="207.20" cy="262.70" r="1.42"/><circle cx="201.98" cy="252.19" r="1.5"/><circle cx="209.17" cy="260.91" r="1.42"/><circle cx="204.97" cy="249.95" r="1.5"/><circle cx="211.31" cy="259.31" r="1.42"/><circle cx="208.17" cy="248.01" r="1.5"/><circle cx="213.58" cy="257.92" r="1.42"/><circle cx="211.53" cy="246.37" r="1.5"/><circle cx="215.98" cy="256.76" r="1.42"/><circle cx="215.03" cy="245.07" r="1.5"/><circle cx="218.47" cy="255.83" r="1.42"/><circle cx="218.65" cy="244.10" r="1.5"/><circle cx="221.05" cy="255.14" r="1.42"/><circle cx="222.33" cy="243.48" r="1.5"/><circle cx="223.68" cy="254.70" r="1.42"/><circle cx="226.06" cy="243.21" r="1.5"/><circle cx="226.33" cy="254.51" r="1.42"/><circle cx="229.80" cy="243.30" r="1.5"/><circle cx="229.00" cy="254.57" r="1.42"/><circle cx="233.52" cy="243.74" r="1.5"/><circle cx="231.64" cy="254.89" r="1.42"/><circle cx="237.17" cy="244.54" r="1.5"/><circle cx="234.25" cy="255.45" r="1.42"/><circle cx="240.73" cy="245.68" r="1.5"/><circle cx="236.78" cy="256.27" r="1.42"/><circle cx="244.17" cy="247.15" r="1.5"/><circle cx="239.23" cy="257.31" r="1.42"/><circle cx="247.45" cy="248.94" r="1.5"/><circle cx="241.57" cy="258.59" r="1.42"/><circle cx="250.55" cy="251.04" r="1.5"/><circle cx="243.78" cy="260.08" r="1.42"/><circle cx="253.44" cy="253.42" r="1.5"/><circle cx="245.83" cy="261.78" r="1.42"/><circle cx="256.08" cy="256.06" r="1.5"/><circle cx="247.72" cy="263.67" r="1.42"/><circle cx="258.46" cy="258.95" r="1.5"/><circle cx="249.42" cy="265.72" r="1.42"/><circle cx="260.56" cy="262.05" r="1.5"/><circle cx="250.91" cy="267.93" r="1.42"/><circle cx="262.35" cy="265.33" r="1.5"/><circle cx="252.19" cy="270.27" r="1.42"/><circle cx="263.82" cy="268.77" r="1.5"/><circle cx="253.23" cy="272.72" r="1.42"/><circle cx="264.96" cy="272.33" r="1.5"/><circle cx="254.05" cy="275.25" r="1.42"/><circle cx="265.76" cy="275.98" r="1.5"/><circle cx="254.61" cy="277.86" r="1.42"/><circle cx="266.20" cy="279.70" r="1.5"/><circle cx="254.93" cy="280.50" r="1.42"/></g>
<g fill="#a9d3f0" stroke="none">
<path d="M213.5,274.5 l5,-3 l5,3 l0,6 l-5,3 l-5,-3 Z"/>
<ellipse cx="236" cy="291.0" rx="4.2" ry="5.6" transform="rotate(20 236 291.0)"/>
</g>
<polyline points="208.0,292.5 211.1,293.0 212.4,289.0 216.1,291.0 217.4,287.0 221.1,289.0 223.0,286.5" fill="none" stroke="#a9d3f0" stroke-width="2.2"/>
<polyline points="237.0,270.5 236.9,273.7 241.3,273.9 239.7,278.1 244.1,278.3 244.0,281.5" fill="none" stroke="#a9d3f0" stroke-width="2.2"/>
<text x="285.61" y="127.80" font-size="19.4" letter-spacing="1.872" word-spacing="-3.43" fill="#231f20" >DNA ligand</text>
<text x="297.58" y="145.80" font-size="14.8" letter-spacing="1.318" fill="#231f20" >(Chol-DNA)</text>
<polyline points="322.7,167.7 327.7,171.2 337.2,164.2 346.3,171.5 355.5,163.9 364.4,171.8 373.5,163.9" fill="none" stroke="#9c2080" stroke-width="2"/>
<ellipse cx="318.9" cy="164" rx="8" ry="3.8" fill="#eb8a26"/>
<line x1="301.6" y1="182.4" x2="399.8" y2="182.4" stroke="#231f20" stroke-width="2.4"/>
<path d="M398.8,176.4 L410.8,182.4 L398.8,188.4 Z" fill="#231f20"/>
<g stroke="#7b7b7b" stroke-width="2.7"><line x1="591.24" y1="157.57" x2="585.04" y2="157.26"/><line x1="577.65" y1="156.90" x2="583.85" y2="157.20"/><line x1="590.73" y1="162.67" x2="584.60" y2="161.76"/><line x1="577.28" y1="160.68" x2="583.41" y2="161.59"/><line x1="589.73" y1="167.71" x2="583.72" y2="166.20"/><line x1="576.54" y1="164.40" x2="582.55" y2="165.91"/><line x1="588.24" y1="172.62" x2="582.41" y2="170.53"/><line x1="575.44" y1="168.04" x2="581.28" y2="170.13"/><line x1="586.28" y1="177.36" x2="580.67" y2="174.71"/><line x1="573.98" y1="171.55" x2="579.59" y2="174.20"/><line x1="583.86" y1="181.89" x2="578.54" y2="178.70"/><line x1="572.19" y1="174.90" x2="577.51" y2="178.08"/><line x1="581.01" y1="186.16" x2="576.03" y2="182.46"/><line x1="570.08" y1="178.05" x2="575.06" y2="181.75"/><line x1="577.75" y1="190.12" x2="573.16" y2="185.96"/><line x1="567.67" y1="180.99" x2="572.27" y2="185.15"/><line x1="574.12" y1="193.75" x2="569.96" y2="189.16"/><line x1="564.99" y1="183.67" x2="569.15" y2="188.27"/><line x1="570.16" y1="197.01" x2="566.46" y2="192.03"/><line x1="562.05" y1="186.08" x2="565.75" y2="191.06"/><line x1="565.89" y1="199.86" x2="562.70" y2="194.54"/><line x1="558.90" y1="188.19" x2="562.08" y2="193.51"/><line x1="561.36" y1="202.28" x2="558.71" y2="196.67"/><line x1="555.55" y1="189.98" x2="558.20" y2="195.59"/><line x1="556.62" y1="204.24" x2="554.53" y2="198.41"/><line x1="552.04" y1="191.44" x2="554.13" y2="197.28"/><line x1="551.71" y1="205.73" x2="550.20" y2="199.72"/><line x1="548.40" y1="192.54" x2="549.91" y2="198.55"/><line x1="546.67" y1="206.73" x2="545.76" y2="200.60"/><line x1="544.68" y1="193.28" x2="545.59" y2="199.41"/><line x1="541.57" y1="207.24" x2="541.26" y2="201.04"/><line x1="540.90" y1="193.65" x2="541.20" y2="199.85"/><line x1="536.43" y1="207.24" x2="536.74" y2="201.04"/><line x1="537.10" y1="193.65" x2="536.80" y2="199.85"/><line x1="531.33" y1="206.73" x2="532.24" y2="200.60"/><line x1="533.32" y1="193.28" x2="532.41" y2="199.41"/><line x1="526.29" y1="205.73" x2="527.80" y2="199.72"/><line x1="529.60" y1="192.54" x2="528.09" y2="198.55"/><line x1="521.38" y1="204.24" x2="523.47" y2="198.41"/><line x1="525.96" y1="191.44" x2="523.87" y2="197.28"/><line x1="516.64" y1="202.28" x2="519.29" y2="196.67"/><line x1="522.45" y1="189.98" x2="519.80" y2="195.59"/><line x1="512.11" y1="199.86" x2="515.30" y2="194.54"/><line x1="519.10" y1="188.19" x2="515.92" y2="193.51"/><line x1="507.84" y1="197.01" x2="511.54" y2="192.03"/><line x1="515.95" y1="186.08" x2="512.25" y2="191.06"/><line x1="503.88" y1="193.75" x2="508.04" y2="189.16"/><line x1="513.01" y1="183.67" x2="508.85" y2="188.27"/><line x1="500.25" y1="190.12" x2="504.84" y2="185.96"/><line x1="510.33" y1="180.99" x2="505.73" y2="185.15"/><line x1="496.99" y1="186.16" x2="501.97" y2="182.46"/><line x1="507.92" y1="178.05" x2="502.94" y2="181.75"/><line x1="494.14" y1="181.89" x2="499.46" y2="178.70"/><line x1="505.81" y1="174.90" x2="500.49" y2="178.08"/><line x1="491.72" y1="177.36" x2="497.33" y2="174.71"/><line x1="504.02" y1="171.55" x2="498.41" y2="174.20"/><line x1="489.76" y1="172.62" x2="495.59" y2="170.53"/><line x1="502.56" y1="168.04" x2="496.72" y2="170.13"/><line x1="488.27" y1="167.71" x2="494.28" y2="166.20"/><line x1="501.46" y1="164.40" x2="495.45" y2="165.91"/><line x1="487.27" y1="162.67" x2="493.40" y2="161.76"/><line x1="500.72" y1="160.68" x2="494.59" y2="161.59"/><line x1="486.76" y1="157.57" x2="492.96" y2="157.26"/><line x1="500.35" y1="156.90" x2="494.15" y2="157.20"/><line x1="486.76" y1="152.43" x2="492.96" y2="152.74"/><line x1="500.35" y1="153.10" x2="494.15" y2="152.80"/><line x1="487.27" y1="147.33" x2="493.40" y2="148.24"/><line x1="500.72" y1="149.32" x2="494.59" y2="148.41"/><line x1="488.27" y1="142.29" x2="494.28" y2="143.80"/><line x1="501.46" y1="145.60" x2="495.45" y2="144.09"/><line x1="489.76" y1="137.38" x2="495.59" y2="139.47"/><line x1="502.56" y1="141.96" x2="496.72" y2="139.87"/><line x1="491.72" y1="132.64" x2="497.33" y2="135.29"/><line x1="504.02" y1="138.45" x2="498.41" y2="135.80"/><line x1="494.14" y1="128.11" x2="499.46" y2="131.30"/><line x1="505.81" y1="135.10" x2="500.49" y2="131.92"/><line x1="496.99" y1="123.84" x2="501.97" y2="127.54"/><line x1="507.92" y1="131.95" x2="502.94" y2="128.25"/><line x1="500.25" y1="119.88" x2="504.84" y2="124.04"/><line x1="510.33" y1="129.01" x2="505.73" y2="124.85"/><line x1="503.88" y1="116.25" x2="508.04" y2="120.84"/><line x1="513.01" y1="126.33" x2="508.85" y2="121.73"/><line x1="507.84" y1="112.99" x2="511.54" y2="117.97"/><line x1="515.95" y1="123.92" x2="512.25" y2="118.94"/><line x1="512.11" y1="110.14" x2="515.30" y2="115.46"/><line x1="519.10" y1="121.81" x2="515.92" y2="116.49"/><line x1="516.64" y1="107.72" x2="519.29" y2="113.33"/><line x1="522.45" y1="120.02" x2="519.80" y2="114.41"/><line x1="521.38" y1="105.76" x2="523.47" y2="111.59"/><line x1="525.96" y1="118.56" x2="523.87" y2="112.72"/><line x1="526.29" y1="104.27" x2="527.80" y2="110.28"/><line x1="529.60" y1="117.46" x2="528.09" y2="111.45"/><line x1="531.33" y1="103.27" x2="532.24" y2="109.40"/><line x1="533.32" y1="116.72" x2="532.41" y2="110.59"/><line x1="536.43" y1="102.76" x2="536.74" y2="108.96"/><line x1="537.10" y1="116.35" x2="536.80" y2="110.15"/><line x1="541.57" y1="102.76" x2="541.26" y2="108.96"/><line x1="540.90" y1="116.35" x2="541.20" y2="110.15"/><line x1="546.67" y1="103.27" x2="545.76" y2="109.40"/><line x1="544.68" y1="116.72" x2="545.59" y2="110.59"/><line x1="551.71" y1="104.27" x2="550.20" y2="110.28"/><line x1="548.40" y1="117.46" x2="549.91" y2="111.45"/><line x1="556.62" y1="105.76" x2="554.53" y2="111.59"/><line x1="552.04" y1="118.56" x2="554.13" y2="112.72"/><line x1="561.36" y1="107.72" x2="558.71" y2="113.33"/><line x1="555.55" y1="120.02" x2="558.20" y2="114.41"/><line x1="565.89" y1="110.14" x2="562.70" y2="115.46"/><line x1="558.90" y1="121.81" x2="562.08" y2="116.49"/><line x1="570.16" y1="112.99" x2="566.46" y2="117.97"/><line x1="562.05" y1="123.92" x2="565.75" y2="118.94"/><line x1="574.12" y1="116.25" x2="569.96" y2="120.84"/><line x1="564.99" y1="126.33" x2="569.15" y2="121.73"/><line x1="577.75" y1="119.88" x2="573.16" y2="124.04"/><line x1="567.67" y1="129.01" x2="572.27" y2="124.85"/><line x1="581.01" y1="123.84" x2="576.03" y2="127.54"/><line x1="570.08" y1="131.95" x2="575.06" y2="128.25"/><line x1="583.86" y1="128.11" x2="578.54" y2="131.30"/><line x1="572.19" y1="135.10" x2="577.51" y2="131.92"/><line x1="586.28" y1="132.64" x2="580.67" y2="135.29"/><line x1="573.98" y1="138.45" x2="579.59" y2="135.80"/><line x1="588.24" y1="137.38" x2="582.41" y2="139.47"/><line x1="575.44" y1="141.96" x2="581.28" y2="139.87"/><line x1="589.73" y1="142.29" x2="583.72" y2="143.80"/><line x1="576.54" y1="145.60" x2="582.55" y2="144.09"/><line x1="590.73" y1="147.33" x2="584.60" y2="148.24"/><line x1="577.28" y1="149.32" x2="583.41" y2="148.41"/><line x1="591.24" y1="152.43" x2="585.04" y2="152.74"/><line x1="577.65" y1="153.10" x2="583.85" y2="152.80"/></g>
<g stroke="#d0d0d0" stroke-width="1.0"><line x1="591.24" y1="157.57" x2="585.04" y2="157.26"/><line x1="577.65" y1="156.90" x2="583.85" y2="157.20"/><line x1="590.73" y1="162.67" x2="584.60" y2="161.76"/><line x1="577.28" y1="160.68" x2="583.41" y2="161.59"/><line x1="589.73" y1="167.71" x2="583.72" y2="166.20"/><line x1="576.54" y1="164.40" x2="582.55" y2="165.91"/><line x1="588.24" y1="172.62" x2="582.41" y2="170.53"/><line x1="575.44" y1="168.04" x2="581.28" y2="170.13"/><line x1="586.28" y1="177.36" x2="580.67" y2="174.71"/><line x1="573.98" y1="171.55" x2="579.59" y2="174.20"/><line x1="583.86" y1="181.89" x2="578.54" y2="178.70"/><line x1="572.19" y1="174.90" x2="577.51" y2="178.08"/><line x1="581.01" y1="186.16" x2="576.03" y2="182.46"/><line x1="570.08" y1="178.05" x2="575.06" y2="181.75"/><line x1="577.75" y1="190.12" x2="573.16" y2="185.96"/><line x1="567.67" y1="180.99" x2="572.27" y2="185.15"/><line x1="574.12" y1="193.75" x2="569.96" y2="189.16"/><line x1="564.99" y1="183.67" x2="569.15" y2="188.27"/><line x1="570.16" y1="197.01" x2="566.46" y2="192.03"/><line x1="562.05" y1="186.08" x2="565.75" y2="191.06"/><line x1="565.89" y1="199.86" x2="562.70" y2="194.54"/><line x1="558.90" y1="188.19" x2="562.08" y2="193.51"/><line x1="561.36" y1="202.28" x2="558.71" y2="196.67"/><line x1="555.55" y1="189.98" x2="558.20" y2="195.59"/><line x1="556.62" y1="204.24" x2="554.53" y2="198.41"/><line x1="552.04" y1="191.44" x2="554.13" y2="197.28"/><line x1="551.71" y1="205.73" x2="550.20" y2="199.72"/><line x1="548.40" y1="192.54" x2="549.91" y2="198.55"/><line x1="546.67" y1="206.73" x2="545.76" y2="200.60"/><line x1="544.68" y1="193.28" x2="545.59" y2="199.41"/><line x1="541.57" y1="207.24" x2="541.26" y2="201.04"/><line x1="540.90" y1="193.65" x2="541.20" y2="199.85"/><line x1="536.43" y1="207.24" x2="536.74" y2="201.04"/><line x1="537.10" y1="193.65" x2="536.80" y2="199.85"/><line x1="531.33" y1="206.73" x2="532.24" y2="200.60"/><line x1="533.32" y1="193.28" x2="532.41" y2="199.41"/><line x1="526.29" y1="205.73" x2="527.80" y2="199.72"/><line x1="529.60" y1="192.54" x2="528.09" y2="198.55"/><line x1="521.38" y1="204.24" x2="523.47" y2="198.41"/><line x1="525.96" y1="191.44" x2="523.87" y2="197.28"/><line x1="516.64" y1="202.28" x2="519.29" y2="196.67"/><line x1="522.45" y1="189.98" x2="519.80" y2="195.59"/><line x1="512.11" y1="199.86" x2="515.30" y2="194.54"/><line x1="519.10" y1="188.19" x2="515.92" y2="193.51"/><line x1="507.84" y1="197.01" x2="511.54" y2="192.03"/><line x1="515.95" y1="186.08" x2="512.25" y2="191.06"/><line x1="503.88" y1="193.75" x2="508.04" y2="189.16"/><line x1="513.01" y1="183.67" x2="508.85" y2="188.27"/><line x1="500.25" y1="190.12" x2="504.84" y2="185.96"/><line x1="510.33" y1="180.99" x2="505.73" y2="185.15"/><line x1="496.99" y1="186.16" x2="501.97" y2="182.46"/><line x1="507.92" y1="178.05" x2="502.94" y2="181.75"/><line x1="494.14" y1="181.89" x2="499.46" y2="178.70"/><line x1="505.81" y1="174.90" x2="500.49" y2="178.08"/><line x1="491.72" y1="177.36" x2="497.33" y2="174.71"/><line x1="504.02" y1="171.55" x2="498.41" y2="174.20"/><line x1="489.76" y1="172.62" x2="495.59" y2="170.53"/><line x1="502.56" y1="168.04" x2="496.72" y2="170.13"/><line x1="488.27" y1="167.71" x2="494.28" y2="166.20"/><line x1="501.46" y1="164.40" x2="495.45" y2="165.91"/><line x1="487.27" y1="162.67" x2="493.40" y2="161.76"/><line x1="500.72" y1="160.68" x2="494.59" y2="161.59"/><line x1="486.76" y1="157.57" x2="492.96" y2="157.26"/><line x1="500.35" y1="156.90" x2="494.15" y2="157.20"/><line x1="486.76" y1="152.43" x2="492.96" y2="152.74"/><line x1="500.35" y1="153.10" x2="494.15" y2="152.80"/><line x1="487.27" y1="147.33" x2="493.40" y2="148.24"/><line x1="500.72" y1="149.32" x2="494.59" y2="148.41"/><line x1="488.27" y1="142.29" x2="494.28" y2="143.80"/><line x1="501.46" y1="145.60" x2="495.45" y2="144.09"/><line x1="489.76" y1="137.38" x2="495.59" y2="139.47"/><line x1="502.56" y1="141.96" x2="496.72" y2="139.87"/><line x1="491.72" y1="132.64" x2="497.33" y2="135.29"/><line x1="504.02" y1="138.45" x2="498.41" y2="135.80"/><line x1="494.14" y1="128.11" x2="499.46" y2="131.30"/><line x1="505.81" y1="135.10" x2="500.49" y2="131.92"/><line x1="496.99" y1="123.84" x2="501.97" y2="127.54"/><line x1="507.92" y1="131.95" x2="502.94" y2="128.25"/><line x1="500.25" y1="119.88" x2="504.84" y2="124.04"/><line x1="510.33" y1="129.01" x2="505.73" y2="124.85"/><line x1="503.88" y1="116.25" x2="508.04" y2="120.84"/><line x1="513.01" y1="126.33" x2="508.85" y2="121.73"/><line x1="507.84" y1="112.99" x2="511.54" y2="117.97"/><line x1="515.95" y1="123.92" x2="512.25" y2="118.94"/><line x1="512.11" y1="110.14" x2="515.30" y2="115.46"/><line x1="519.10" y1="121.81" x2="515.92" y2="116.49"/><line x1="516.64" y1="107.72" x2="519.29" y2="113.33"/><line x1="522.45" y1="120.02" x2="519.80" y2="114.41"/><line x1="521.38" y1="105.76" x2="523.47" y2="111.59"/><line x1="525.96" y1="118.56" x2="523.87" y2="112.72"/><line x1="526.29" y1="104.27" x2="527.80" y2="110.28"/><line x1="529.60" y1="117.46" x2="528.09" y2="111.45"/><line x1="531.33" y1="103.27" x2="532.24" y2="109.40"/><line x1="533.32" y1="116.72" x2="532.41" y2="110.59"/><line x1="536.43" y1="102.76" x2="536.74" y2="108.96"/><line x1="537.10" y1="116.35" x2="536.80" y2="110.15"/><line x1="541.57" y1="102.76" x2="541.26" y2="108.96"/><line x1="540.90" y1="116.35" x2="541.20" y2="110.15"/><line x1="546.67" y1="103.27" x2="545.76" y2="109.40"/><line x1="544.68" y1="116.72" x2="545.59" y2="110.59"/><line x1="551.71" y1="104.27" x2="550.20" y2="110.28"/><line x1="548.40" y1="117.46" x2="549.91" y2="111.45"/><line x1="556.62" y1="105.76" x2="554.53" y2="111.59"/><line x1="552.04" y1="118.56" x2="554.13" y2="112.72"/><line x1="561.36" y1="107.72" x2="558.71" y2="113.33"/><line x1="555.55" y1="120.02" x2="558.20" y2="114.41"/><line x1="565.89" y1="110.14" x2="562.70" y2="115.46"/><line x1="558.90" y1="121.81" x2="562.08" y2="116.49"/><line x1="570.16" y1="112.99" x2="566.46" y2="117.97"/><line x1="562.05" y1="123.92" x2="565.75" y2="118.94"/><line x1="574.12" y1="116.25" x2="569.96" y2="120.84"/><line x1="564.99" y1="126.33" x2="569.15" y2="121.73"/><line x1="577.75" y1="119.88" x2="573.16" y2="124.04"/><line x1="567.67" y1="129.01" x2="572.27" y2="124.85"/><line x1="581.01" y1="123.84" x2="576.03" y2="127.54"/><line x1="570.08" y1="131.95" x2="575.06" y2="128.25"/><line x1="583.86" y1="128.11" x2="578.54" y2="131.30"/><line x1="572.19" y1="135.10" x2="577.51" y2="131.92"/><line x1="586.28" y1="132.64" x2="580.67" y2="135.29"/><line x1="573.98" y1="138.45" x2="579.59" y2="135.80"/><line x1="588.24" y1="137.38" x2="582.41" y2="139.47"/><line x1="575.44" y1="141.96" x2="581.28" y2="139.87"/><line x1="589.73" y1="142.29" x2="583.72" y2="143.80"/><line x1="576.54" y1="145.60" x2="582.55" y2="144.09"/><line x1="590.73" y1="147.33" x2="584.60" y2="148.24"/><line x1="577.28" y1="149.32" x2="583.41" y2="148.41"/><line x1="591.24" y1="152.43" x2="585.04" y2="152.74"/><line x1="577.65" y1="153.10" x2="583.85" y2="152.80"/></g>
<g fill="#727272"><circle cx="591.24" cy="157.57" r="2.1"/><circle cx="577.65" cy="156.90" r="2.0"/><circle cx="590.73" cy="162.67" r="2.1"/><circle cx="577.28" cy="160.68" r="2.0"/><circle cx="589.73" cy="167.71" r="2.1"/><circle cx="576.54" cy="164.40" r="2.0"/><circle cx="588.24" cy="172.62" r="2.1"/><circle cx="575.44" cy="168.04" r="2.0"/><circle cx="586.28" cy="177.36" r="2.1"/><circle cx="573.98" cy="171.55" r="2.0"/><circle cx="583.86" cy="181.89" r="2.1"/><circle cx="572.19" cy="174.90" r="2.0"/><circle cx="581.01" cy="186.16" r="2.1"/><circle cx="570.08" cy="178.05" r="2.0"/><circle cx="577.75" cy="190.12" r="2.1"/><circle cx="567.67" cy="180.99" r="2.0"/><circle cx="574.12" cy="193.75" r="2.1"/><circle cx="564.99" cy="183.67" r="2.0"/><circle cx="570.16" cy="197.01" r="2.1"/><circle cx="562.05" cy="186.08" r="2.0"/><circle cx="565.89" cy="199.86" r="2.1"/><circle cx="558.90" cy="188.19" r="2.0"/><circle cx="561.36" cy="202.28" r="2.1"/><circle cx="555.55" cy="189.98" r="2.0"/><circle cx="556.62" cy="204.24" r="2.1"/><circle cx="552.04" cy="191.44" r="2.0"/><circle cx="551.71" cy="205.73" r="2.1"/><circle cx="548.40" cy="192.54" r="2.0"/><circle cx="546.67" cy="206.73" r="2.1"/><circle cx="544.68" cy="193.28" r="2.0"/><circle cx="541.57" cy="207.24" r="2.1"/><circle cx="540.90" cy="193.65" r="2.0"/><circle cx="536.43" cy="207.24" r="2.1"/><circle cx="537.10" cy="193.65" r="2.0"/><circle cx="531.33" cy="206.73" r="2.1"/><circle cx="533.32" cy="193.28" r="2.0"/><circle cx="526.29" cy="205.73" r="2.1"/><circle cx="529.60" cy="192.54" r="2.0"/><circle cx="521.38" cy="204.24" r="2.1"/><circle cx="525.96" cy="191.44" r="2.0"/><circle cx="516.64" cy="202.28" r="2.1"/><circle cx="522.45" cy="189.98" r="2.0"/><circle cx="512.11" cy="199.86" r="2.1"/><circle cx="519.10" cy="188.19" r="2.0"/><circle cx="507.84" cy="197.01" r="2.1"/><circle cx="515.95" cy="186.08" r="2.0"/><circle cx="503.88" cy="193.75" r="2.1"/><circle cx="513.01" cy="183.67" r="2.0"/><circle cx="500.25" cy="190.12" r="2.1"/><circle cx="510.33" cy="180.99" r="2.0"/><circle cx="496.99" cy="186.16" r="2.1"/><circle cx="507.92" cy="178.05" r="2.0"/><circle cx="494.14" cy="181.89" r="2.1"/><circle cx="505.81" cy="174.90" r="2.0"/><circle cx="491.72" cy="177.36" r="2.1"/><circle cx="504.02" cy="171.55" r="2.0"/><circle cx="489.76" cy="172.62" r="2.1"/><circle cx="502.56" cy="168.04" r="2.0"/><circle cx="488.27" cy="167.71" r="2.1"/><circle cx="501.46" cy="164.40" r="2.0"/><circle cx="487.27" cy="162.67" r="2.1"/><circle cx="500.72" cy="160.68" r="2.0"/><circle cx="486.76" cy="157.57" r="2.1"/><circle cx="500.35" cy="156.90" r="2.0"/><circle cx="486.76" cy="152.43" r="2.1"/><circle cx="500.35" cy="153.10" r="2.0"/><circle cx="487.27" cy="147.33" r="2.1"/><circle cx="500.72" cy="149.32" r="2.0"/><circle cx="488.27" cy="142.29" r="2.1"/><circle cx="501.46" cy="145.60" r="2.0"/><circle cx="489.76" cy="137.38" r="2.1"/><circle cx="502.56" cy="141.96" r="2.0"/><circle cx="491.72" cy="132.64" r="2.1"/><circle cx="504.02" cy="138.45" r="2.0"/><circle cx="494.14" cy="128.11" r="2.1"/><circle cx="505.81" cy="135.10" r="2.0"/><circle cx="496.99" cy="123.84" r="2.1"/><circle cx="507.92" cy="131.95" r="2.0"/><circle cx="500.25" cy="119.88" r="2.1"/><circle cx="510.33" cy="129.01" r="2.0"/><circle cx="503.88" cy="116.25" r="2.1"/><circle cx="513.01" cy="126.33" r="2.0"/><circle cx="507.84" cy="112.99" r="2.1"/><circle cx="515.95" cy="123.92" r="2.0"/><circle cx="512.11" cy="110.14" r="2.1"/><circle cx="519.10" cy="121.81" r="2.0"/><circle cx="516.64" cy="107.72" r="2.1"/><circle cx="522.45" cy="120.02" r="2.0"/><circle cx="521.38" cy="105.76" r="2.1"/><circle cx="525.96" cy="118.56" r="2.0"/><circle cx="526.29" cy="104.27" r="2.1"/><circle cx="529.60" cy="117.46" r="2.0"/><circle cx="531.33" cy="103.27" r="2.1"/><circle cx="533.32" cy="116.72" r="2.0"/><circle cx="536.43" cy="102.76" r="2.1"/><circle cx="537.10" cy="116.35" r="2.0"/><circle cx="541.57" cy="102.76" r="2.1"/><circle cx="540.90" cy="116.35" r="2.0"/><circle cx="546.67" cy="103.27" r="2.1"/><circle cx="544.68" cy="116.72" r="2.0"/><circle cx="551.71" cy="104.27" r="2.1"/><circle cx="548.40" cy="117.46" r="2.0"/><circle cx="556.62" cy="105.76" r="2.1"/><circle cx="552.04" cy="118.56" r="2.0"/><circle cx="561.36" cy="107.72" r="2.1"/><circle cx="555.55" cy="120.02" r="2.0"/><circle cx="565.89" cy="110.14" r="2.1"/><circle cx="558.90" cy="121.81" r="2.0"/><circle cx="570.16" cy="112.99" r="2.1"/><circle cx="562.05" cy="123.92" r="2.0"/><circle cx="574.12" cy="116.25" r="2.1"/><circle cx="564.99" cy="126.33" r="2.0"/><circle cx="577.75" cy="119.88" r="2.1"/><circle cx="567.67" cy="129.01" r="2.0"/><circle cx="581.01" cy="123.84" r="2.1"/><circle cx="570.08" cy="131.95" r="2.0"/><circle cx="583.86" cy="128.11" r="2.1"/><circle cx="572.19" cy="135.10" r="2.0"/><circle cx="586.28" cy="132.64" r="2.1"/><circle cx="573.98" cy="138.45" r="2.0"/><circle cx="588.24" cy="137.38" r="2.1"/><circle cx="575.44" cy="141.96" r="2.0"/><circle cx="589.73" cy="142.29" r="2.1"/><circle cx="576.54" cy="145.60" r="2.0"/><circle cx="590.73" cy="147.33" r="2.1"/><circle cx="577.28" cy="149.32" r="2.0"/><circle cx="591.24" cy="152.43" r="2.1"/><circle cx="577.65" cy="153.10" r="2.0"/></g>
<path d="M533.49,153.40 L525.00,158.30 L516.51,153.40 L516.51,143.60 L525.00,138.70 L533.49,143.60 Z" fill="#cdcdcd"/>
<ellipse cx="549" cy="166.6" rx="7" ry="7.8" fill="#cdcdcd"/>
<polyline points="509.5,170.5 513.1,170.6 512.8,165.3 517.7,167.2 517.4,161.9 521.0,162.0" fill="none" stroke="#cdcdcd" stroke-width="3.6"/>
<polyline points="550.0,139.0 550.7,143.5 556.8,143.3 555.7,149.3 561.8,149.1 560.7,155.1 565.0,156.5" fill="none" stroke="#cdcdcd" stroke-width="3.8"/>
<text x="520.35" y="165.60" font-size="26.2" letter-spacing="1.814" fill="#231f20" >EV</text>
<polyline points="539.0,98.0 542.6,89.5 535.4,81.0 542.6,72.5 535.4,64.0 542.6,55.5 539.0,47.0" fill="none" stroke="#9c2080" stroke-width="2.2" stroke-linejoin="miter"/>
<polyline points="588.4,126.5 597.5,125.4 601.3,114.9 612.2,116.9 616.0,106.4 627.0,108.4 632.5,101.0" fill="none" stroke="#9c2080" stroke-width="2.2" stroke-linejoin="miter"/>
<polyline points="489.6,126.5 484.1,119.1 473.1,121.1 469.4,110.6 458.4,112.6 454.6,102.1 445.5,101.0" fill="none" stroke="#9c2080" stroke-width="2.2" stroke-linejoin="miter"/>
<polyline points="489.6,183.5 480.5,184.6 476.7,195.1 465.8,193.1 462.0,203.6 451.0,201.6 445.5,209.0" fill="none" stroke="#9c2080" stroke-width="2.2" stroke-linejoin="miter"/>
<polyline points="588.4,183.5 593.9,190.9 604.9,188.9 608.6,199.4 619.6,197.4 623.4,207.9 632.5,209.0" fill="none" stroke="#9c2080" stroke-width="2.2" stroke-linejoin="miter"/>
<polyline points="539.0,212.0 535.4,220.5 542.6,229.0 535.4,237.5 542.6,246.0 535.4,254.5 539.0,263.0" fill="none" stroke="#9c2080" stroke-width="2.2" stroke-linejoin="miter"/>
<ellipse cx="539.00" cy="102.30" rx="7.2" ry="4.4" transform="rotate(-90 539.00 102.30)" fill="#ee8a24"/>
<ellipse cx="584.64" cy="128.65" rx="7.2" ry="4.4" transform="rotate(-30 584.64 128.65)" fill="#ee8a24"/>
<ellipse cx="493.36" cy="128.65" rx="7.2" ry="4.4" transform="rotate(-150 493.36 128.65)" fill="#ee8a24"/>
<ellipse cx="493.36" cy="181.35" rx="7.2" ry="4.4" transform="rotate(-210 493.36 181.35)" fill="#ee8a24"/>
<ellipse cx="584.64" cy="181.35" rx="7.2" ry="4.4" transform="rotate(-330 584.64 181.35)" fill="#ee8a24"/>
<ellipse cx="539.00" cy="207.70" rx="7.2" ry="4.4" transform="rotate(-270 539.00 207.70)" fill="#ee8a24"/>
<rect x="688.7" y="146.1" width="29.7" height="4.2" fill="#231f20"/><rect x="688.7" y="159.8" width="29.7" height="4.2" fill="#231f20"/>
<rect x="688.5" y="496.8" width="30" height="4.4" fill="#231f20"/><rect x="688.5" y="510.8" width="30" height="4.4" fill="#231f20"/>
<text x="715.01" y="89.20" font-size="19.4" letter-spacing="1.945" word-spacing="-3.43" fill="#231f20" >DNA-encoded EV</text>
<rect x="830" y="152.6" width="16" height="7.4" fill="#e6067f"/>
<circle cx="852.5" cy="156.5" r="10.8" fill="#e6067f"/>
<circle cx="799.5" cy="156.2" r="32.8" fill="#f1cfdf" stroke="#3b2630" stroke-width="1.3"/>
<text x="779.87" y="165.20" font-size="26" letter-spacing="1.663" fill="#231f20" >EV</text>
<path d="M909.1,82.4 L927.6,100.4 L927.6,300.4 L946.6,310 L927.6,319.6 L927.6,519.5 L909.5,537.7" fill="none" stroke="#231f20" stroke-width="2.1" stroke-linejoin="miter"/>
<rect x="401.5" y="273.8" width="504" height="73" fill="#fff" stroke="#878787" stroke-width="1.6"/>
<text x="410.46" y="306.00" font-size="20" letter-spacing="1.634" word-spacing="-4.00" font-weight="bold" fill="#231f20" >DNA-encoded ligand-receptor system (DLRS)</text>
<text x="512.36" y="328.50" font-size="20" letter-spacing="1.555" word-spacing="-4.00" font-weight="bold" fill="#231f20" >for EV-cell communication</text>
<text x="1036.51" y="64.00" font-size="19.4" letter-spacing="2.162" word-spacing="-3.43" fill="#231f20" >No DLRS</text>
<rect x="1105.3" y="75.4" width="101.40000000000009" height="86.29999999999998" rx="16" fill="#e7e6f3" stroke="#2e2a2e" stroke-width="1.3"/>
<ellipse cx="1155" cy="118.2" rx="27.8" ry="16.8" fill="#cfcee6"/>
<text x="1130.41" y="127.20" font-size="25.5" letter-spacing="1.724" fill="#211d33" >Cell</text>
<circle cx="996.4" cy="118.1" r="29.4" fill="#f1cfdf" stroke="#3b2630" stroke-width="1.3"/>
<text x="977.08" y="127.30" font-size="25.8" letter-spacing="1.613" fill="#35202b" >EV</text>
<path d="M1023.5,137 Q1068.7,158 1114,137" fill="none" stroke="#2a2326" stroke-width="3" stroke-dasharray="11.5 8.5"/>
<path d="M1124.6,132.3 L1111.4,131.8 L1116.6,142.2 Z" fill="#2a2326"/>
<text x="1025.42" y="172.50" font-size="15.6" letter-spacing="0.982" word-spacing="-2.76" fill="#231f20" >Low uptake</text>
<text x="993.30" y="248.90" font-size="19.4" letter-spacing="1.998" word-spacing="-3.43" fill="#231f20" >Unmatched DLRS</text>
<rect x="1105" y="257.5" width="101.5" height="86.80000000000001" rx="16" fill="#e7e6f3" stroke="#2e2a2e" stroke-width="1.3"/>
<ellipse cx="1155" cy="300.6" rx="27.8" ry="16.8" fill="#cfcee6"/>
<text x="1130.41" y="309.50" font-size="25.5" letter-spacing="1.724" fill="#211d33" >Cell</text>
<rect x="1094" y="298.0" width="11" height="6" fill="#e6067f"/>
<path d="M1078,282 A19,19 0 0 1 1078,320 L1078,313 A12,12 0 0 0 1078,289 Z" fill="#e6067f"/>
<rect x="1024" y="298" width="15" height="6" fill="#2e3190"/>
<rect x="1037.8" y="291.8" width="18.6" height="17.8" fill="#2e3190"/>
<circle cx="996" cy="301" r="29.4" fill="#f1cfdf" stroke="#3b2630" stroke-width="1.3"/>
<text x="976.68" y="310.50" font-size="25.8" letter-spacing="1.613" fill="#35202b" >EV</text>
<path d="M1023.5,319.5 Q1068.7,340.5 1114,319.5" fill="none" stroke="#2a2326" stroke-width="3" stroke-dasharray="11.5 8.5"/>
<path d="M1124.6,314.8 L1111.4,314.3 L1116.6,324.7 Z" fill="#2a2326"/>
<text x="1025.42" y="356.00" font-size="15.6" letter-spacing="0.982" word-spacing="-2.76" fill="#231f20" >Low uptake</text>
<text x="1007.21" y="426.40" font-size="19.4" letter-spacing="2.015" word-spacing="-3.43" fill="#231f20" >Matched DLRS</text>
<rect x="1072.7" y="435.8" width="101.89999999999986" height="86.69999999999999" rx="16" fill="#f1cfdf" stroke="#2e2a2e" stroke-width="1.3"/>
<ellipse cx="1123.6" cy="478.9" rx="27.8" ry="16.8" fill="#cfcee6"/>
<text x="1099.01" y="487.80" font-size="25.5" letter-spacing="1.724" fill="#211d33" >Cell</text>
<rect x="1024" y="476.5" width="50" height="5.3" fill="#e6067f"/>
<path d="M1045.4,460.2 A19,19 0 0 1 1045.4,498.2 L1045.4,491.2 A12,12 0 0 0 1045.4,467.2 Z" fill="#e6067f"/>
<circle cx="1043.9" cy="479.2" r="10.1" fill="#e6067f"/>
<circle cx="996" cy="478.8" r="29.4" fill="#f1cfdf" stroke="#3b2630" stroke-width="1.3"/>
<text x="976.68" y="488.00" font-size="25.8" letter-spacing="1.613" fill="#35202b" >EV</text>
<path d="M1005.2,497.9 Q1041,517.8 1096,497.5" fill="none" stroke="#2a2224" stroke-width="3.8"/>
<path d="M1111.2,490.2 L1091.2,489.4 L1099.4,506.6 Z" fill="#2a2224"/>
<line x1="1160.2" y1="479.2" x2="1176.6" y2="479.2" stroke="#2a2224" stroke-width="5.2"/>
<path d="M1175.6,473.0 L1188.6,479.2 L1175.6,485.4 Z" fill="#2a2224"/>
<text x="1191.21" y="474.60" font-size="19.4" letter-spacing="1.769" fill="#231f20" >Potent</text>
<text x="1191.48" y="497.30" font-size="19.4" letter-spacing="1.346" fill="#231f20" >effects</text>
<text x="1023.62" y="538.90" font-size="15.6" letter-spacing="0.907" word-spacing="-2.76" fill="#231f20" >High uptake</text>
<defs><radialGradient id="cg" cx="0.62" cy="0.45" r="0.6"><stop offset="0" stop-color="#f4f4fb"/><stop offset="1" stop-color="#d3d5ee"/></radialGradient></defs>
<path d="M48,440.3 C70,446 95,449 120,449.6 C145,450.5 160,458 175,472 C195,492 215,522 236.2,543.2 C215,532 195,524 178,522.5 C160,521 140,518 127.5,514 C105,505 85,480 65,458 C58,450 52,445 48,440.3 Z" fill="url(#cg)" stroke="#2d3170" stroke-width="1.4"/>
<ellipse cx="131.5" cy="487" rx="25.7" ry="23.3" transform="rotate(10 131.5 487)" fill="#ebebf7" stroke="#a8a8cc" stroke-width="1"/>
<text x="123.31" y="431.30" font-size="19.4" letter-spacing="1.754" fill="#231f20" >Cell</text>
<text x="256.11" y="374.80" font-size="19.4" letter-spacing="1.911" word-spacing="-3.43" fill="#231f20" >DNA receptor</text>
<text x="239.30" y="393.30" font-size="14.5" letter-spacing="1.435" word-spacing="-4.30" fill="#231f20" >(Chol-DNA framework)</text>
<polyline points="323.8,453.7 327.2,446.3 320.7,438.9 327.4,431.5 320.9,424.1 327.6,416.7 321.1,409.3 324.5,401.9" fill="none" stroke="#9c2080" stroke-width="2"/>
<ellipse cx="287" cy="512.9" rx="3.6" ry="7" transform="rotate(0 287 512.9)" fill="#ee8a24"/>
<ellipse cx="323.8" cy="524.5" rx="3.6" ry="7" transform="rotate(0 323.8 524.5)" fill="#ee8a24"/>
<ellipse cx="360.5" cy="512.9" rx="3.6" ry="7" transform="rotate(0 360.5 512.9)" fill="#ee8a24"/>
<line x1="285.8" y1="504.4" x2="361.9" y2="504.4" stroke="#7391c5" stroke-width="6.3" stroke-linecap="round"/>
<line x1="323.8" y1="453.7" x2="285.8" y2="504.4" stroke="#7391c5" stroke-width="6.3" stroke-linecap="round"/>
<line x1="323.8" y1="453.7" x2="361.9" y2="504.4" stroke="#7391c5" stroke-width="6.3" stroke-linecap="round"/>
<line x1="285.8" y1="504.4" x2="323.8" y2="518" stroke="#7391c5" stroke-width="6.3" stroke-linecap="round"/>
<line x1="361.9" y1="504.4" x2="323.8" y2="518" stroke="#7391c5" stroke-width="6.3" stroke-linecap="round"/>
<line x1="323.8" y1="453.7" x2="323.8" y2="518" stroke="#7391c5" stroke-width="6.3" stroke-linecap="round"/>
<line x1="285.8" y1="504.4" x2="361.9" y2="504.4" stroke="#b7caee" stroke-width="1.7" stroke-linecap="round"/>
<line x1="323.8" y1="453.7" x2="285.8" y2="504.4" stroke="#b7caee" stroke-width="1.7" stroke-linecap="round"/>
<line x1="323.8" y1="453.7" x2="361.9" y2="504.4" stroke="#b7caee" stroke-width="1.7" stroke-linecap="round"/>
<line x1="285.8" y1="504.4" x2="323.8" y2="518" stroke="#b7caee" stroke-width="1.7" stroke-linecap="round"/>
<line x1="361.9" y1="504.4" x2="323.8" y2="518" stroke="#b7caee" stroke-width="1.7" stroke-linecap="round"/>
<line x1="323.8" y1="453.7" x2="323.8" y2="518" stroke="#b7caee" stroke-width="1.7" stroke-linecap="round"/>
<line x1="274.1" y1="538.2" x2="372.6" y2="538.2" stroke="#231f20" stroke-width="2.4"/>
<path d="M371.6,532.2 L383.6,538.2 L371.6,544.2 Z" fill="#231f20"/>
<clipPath id="mc"><rect x="407" y="380" width="263.7" height="168.5"/></clipPath>
<g clip-path="url(#mc)">
<circle cx="539" cy="767.8" r="295.4" fill="#e5e4f2"/>
<g stroke="#7a7a7a" stroke-width="2.5"><line x1="374.83" y1="522.46" x2="378.22" y2="527.53"/><line x1="382.17" y1="533.43" x2="378.77" y2="528.36"/><line x1="378.76" y1="519.88" x2="382.07" y2="525.00"/><line x1="385.92" y1="530.96" x2="382.61" y2="525.84"/><line x1="382.73" y1="517.36" x2="385.96" y2="522.53"/><line x1="389.72" y1="528.55" x2="386.49" y2="523.38"/><line x1="386.74" y1="514.90" x2="389.89" y2="520.12"/><line x1="393.55" y1="526.21" x2="390.40" y2="520.98"/><line x1="390.79" y1="512.50" x2="393.85" y2="517.78"/><line x1="397.42" y1="523.92" x2="394.35" y2="518.64"/><line x1="394.88" y1="510.17" x2="397.86" y2="515.50"/><line x1="401.32" y1="521.69" x2="398.34" y2="516.37"/><line x1="399.00" y1="507.91" x2="401.89" y2="513.28"/><line x1="405.26" y1="519.53" x2="402.37" y2="514.16"/><line x1="403.16" y1="505.71" x2="405.97" y2="511.13"/><line x1="409.24" y1="517.43" x2="406.43" y2="512.01"/><line x1="407.36" y1="503.58" x2="410.08" y2="509.04"/><line x1="413.24" y1="515.39" x2="410.52" y2="509.93"/><line x1="411.58" y1="501.51" x2="414.22" y2="507.02"/><line x1="417.28" y1="513.42" x2="414.65" y2="507.92"/><line x1="415.84" y1="499.52" x2="418.39" y2="505.06"/><line x1="421.35" y1="511.51" x2="418.81" y2="505.97"/><line x1="420.14" y1="497.59" x2="422.59" y2="503.17"/><line x1="425.45" y1="509.67" x2="423.00" y2="504.09"/><line x1="424.46" y1="495.73" x2="426.83" y2="501.35"/><line x1="429.58" y1="507.89" x2="427.21" y2="502.27"/><line x1="428.81" y1="493.94" x2="431.09" y2="499.60"/><line x1="433.74" y1="506.18" x2="431.46" y2="500.52"/><line x1="433.19" y1="492.22" x2="435.37" y2="497.91"/><line x1="437.92" y1="504.54" x2="435.73" y2="498.84"/><line x1="437.59" y1="490.56" x2="439.69" y2="496.29"/><line x1="442.13" y1="502.96" x2="440.03" y2="497.23"/><line x1="442.03" y1="488.98" x2="444.03" y2="494.74"/><line x1="446.36" y1="501.45" x2="444.36" y2="495.69"/><line x1="446.48" y1="487.47" x2="448.39" y2="493.27"/><line x1="450.62" y1="500.01" x2="448.71" y2="494.21"/><line x1="450.96" y1="486.03" x2="452.78" y2="491.86"/><line x1="454.90" y1="498.63" x2="453.08" y2="492.81"/><line x1="455.46" y1="484.67" x2="457.19" y2="490.52"/><line x1="459.20" y1="497.33" x2="457.47" y2="491.48"/><line x1="459.99" y1="483.37" x2="461.62" y2="489.25"/><line x1="463.52" y1="496.09" x2="461.89" y2="490.21"/><line x1="464.53" y1="482.15" x2="466.07" y2="488.05"/><line x1="467.86" y1="494.92" x2="466.32" y2="489.02"/><line x1="469.09" y1="481.00" x2="470.54" y2="486.92"/><line x1="472.22" y1="493.82" x2="470.77" y2="487.90"/><line x1="473.67" y1="479.92" x2="475.02" y2="485.87"/><line x1="476.59" y1="492.79" x2="475.24" y2="486.84"/><line x1="478.27" y1="478.91" x2="479.52" y2="484.88"/><line x1="480.98" y1="491.83" x2="479.73" y2="485.86"/><line x1="482.88" y1="477.98" x2="484.04" y2="483.97"/><line x1="485.39" y1="490.94" x2="484.23" y2="484.95"/><line x1="487.51" y1="477.13" x2="488.57" y2="483.13"/><line x1="489.81" y1="490.12" x2="488.75" y2="484.12"/><line x1="492.15" y1="476.34" x2="493.12" y2="482.36"/><line x1="494.24" y1="489.37" x2="493.27" y2="483.35"/><line x1="496.80" y1="475.63" x2="497.67" y2="481.67"/><line x1="498.69" y1="488.70" x2="497.81" y2="482.66"/><line x1="501.46" y1="475.00" x2="502.24" y2="481.05"/><line x1="503.14" y1="488.09" x2="502.36" y2="482.04"/><line x1="506.13" y1="474.44" x2="506.81" y2="480.50"/><line x1="507.60" y1="487.55" x2="506.92" y2="481.49"/><line x1="510.81" y1="473.95" x2="511.39" y2="480.02"/><line x1="512.07" y1="487.09" x2="511.49" y2="481.02"/><line x1="515.50" y1="473.54" x2="515.98" y2="479.62"/><line x1="516.55" y1="486.70" x2="516.06" y2="480.61"/><line x1="520.19" y1="473.20" x2="520.58" y2="479.29"/><line x1="521.03" y1="486.37" x2="520.64" y2="480.29"/><line x1="524.89" y1="472.94" x2="525.18" y2="479.03"/><line x1="525.52" y1="486.12" x2="525.23" y2="480.03"/><line x1="529.59" y1="472.75" x2="529.79" y2="478.85"/><line x1="530.01" y1="485.94" x2="529.82" y2="479.85"/><line x1="534.30" y1="472.64" x2="534.39" y2="478.74"/><line x1="534.51" y1="485.84" x2="534.41" y2="479.74"/><line x1="539.00" y1="472.60" x2="539.00" y2="478.70"/><line x1="539.00" y1="485.80" x2="539.00" y2="479.70"/><line x1="543.70" y1="472.64" x2="543.61" y2="478.74"/><line x1="543.49" y1="485.84" x2="543.59" y2="479.74"/><line x1="548.41" y1="472.75" x2="548.21" y2="478.85"/><line x1="547.99" y1="485.94" x2="548.18" y2="479.85"/><line x1="553.11" y1="472.94" x2="552.82" y2="479.03"/><line x1="552.48" y1="486.12" x2="552.77" y2="480.03"/><line x1="557.81" y1="473.20" x2="557.42" y2="479.29"/><line x1="556.97" y1="486.37" x2="557.36" y2="480.29"/><line x1="562.50" y1="473.54" x2="562.02" y2="479.62"/><line x1="561.45" y1="486.70" x2="561.94" y2="480.61"/><line x1="567.19" y1="473.95" x2="566.61" y2="480.02"/><line x1="565.93" y1="487.09" x2="566.51" y2="481.02"/><line x1="571.87" y1="474.44" x2="571.19" y2="480.50"/><line x1="570.40" y1="487.55" x2="571.08" y2="481.49"/><line x1="576.54" y1="475.00" x2="575.76" y2="481.05"/><line x1="574.86" y1="488.09" x2="575.64" y2="482.04"/><line x1="581.20" y1="475.63" x2="580.33" y2="481.67"/><line x1="579.31" y1="488.70" x2="580.19" y2="482.66"/><line x1="585.85" y1="476.34" x2="584.88" y2="482.36"/><line x1="583.76" y1="489.37" x2="584.73" y2="483.35"/><line x1="590.49" y1="477.13" x2="589.43" y2="483.13"/><line x1="588.19" y1="490.12" x2="589.25" y2="484.12"/><line x1="595.12" y1="477.98" x2="593.96" y2="483.97"/><line x1="592.61" y1="490.94" x2="593.77" y2="484.95"/><line x1="599.73" y1="478.91" x2="598.48" y2="484.88"/><line x1="597.02" y1="491.83" x2="598.27" y2="485.86"/><line x1="604.33" y1="479.92" x2="602.98" y2="485.87"/><line x1="601.41" y1="492.79" x2="602.76" y2="486.84"/><line x1="608.91" y1="481.00" x2="607.46" y2="486.92"/><line x1="605.78" y1="493.82" x2="607.23" y2="487.90"/><line x1="613.47" y1="482.15" x2="611.93" y2="488.05"/><line x1="610.14" y1="494.92" x2="611.68" y2="489.02"/><line x1="618.01" y1="483.37" x2="616.38" y2="489.25"/><line x1="614.48" y1="496.09" x2="616.11" y2="490.21"/><line x1="622.54" y1="484.67" x2="620.81" y2="490.52"/><line x1="618.80" y1="497.33" x2="620.53" y2="491.48"/><line x1="627.04" y1="486.03" x2="625.22" y2="491.86"/><line x1="623.10" y1="498.63" x2="624.92" y2="492.81"/><line x1="631.52" y1="487.47" x2="629.61" y2="493.27"/><line x1="627.38" y1="500.01" x2="629.29" y2="494.21"/><line x1="635.97" y1="488.98" x2="633.97" y2="494.74"/><line x1="631.64" y1="501.45" x2="633.64" y2="495.69"/><line x1="640.41" y1="490.56" x2="638.31" y2="496.29"/><line x1="635.87" y1="502.96" x2="637.97" y2="497.23"/><line x1="644.81" y1="492.22" x2="642.63" y2="497.91"/><line x1="640.08" y1="504.54" x2="642.27" y2="498.84"/><line x1="649.19" y1="493.94" x2="646.91" y2="499.60"/><line x1="644.26" y1="506.18" x2="646.54" y2="500.52"/><line x1="653.54" y1="495.73" x2="651.17" y2="501.35"/><line x1="648.42" y1="507.89" x2="650.79" y2="502.27"/><line x1="657.86" y1="497.59" x2="655.41" y2="503.17"/><line x1="652.55" y1="509.67" x2="655.00" y2="504.09"/><line x1="662.16" y1="499.52" x2="659.61" y2="505.06"/><line x1="656.65" y1="511.51" x2="659.19" y2="505.97"/><line x1="666.42" y1="501.51" x2="663.78" y2="507.02"/><line x1="660.72" y1="513.42" x2="663.35" y2="507.92"/><line x1="670.64" y1="503.58" x2="667.92" y2="509.04"/><line x1="664.76" y1="515.39" x2="667.48" y2="509.93"/><line x1="674.84" y1="505.71" x2="672.03" y2="511.13"/><line x1="668.76" y1="517.43" x2="671.57" y2="512.01"/><line x1="679.00" y1="507.91" x2="676.11" y2="513.28"/><line x1="672.74" y1="519.53" x2="675.63" y2="514.16"/><line x1="683.12" y1="510.17" x2="680.14" y2="515.50"/><line x1="676.68" y1="521.69" x2="679.66" y2="516.37"/><line x1="687.21" y1="512.50" x2="684.15" y2="517.78"/><line x1="680.58" y1="523.92" x2="683.65" y2="518.64"/><line x1="691.26" y1="514.90" x2="688.11" y2="520.12"/><line x1="684.45" y1="526.21" x2="687.60" y2="520.98"/><line x1="695.27" y1="517.36" x2="692.04" y2="522.53"/><line x1="688.28" y1="528.55" x2="691.51" y2="523.38"/><line x1="699.24" y1="519.88" x2="695.93" y2="525.00"/><line x1="692.08" y1="530.96" x2="695.39" y2="525.84"/><line x1="703.17" y1="522.46" x2="699.78" y2="527.53"/><line x1="695.83" y1="533.43" x2="699.23" y2="528.36"/></g>
<g stroke="#cfcfcf" stroke-width="0.9"><line x1="374.83" y1="522.46" x2="378.22" y2="527.53"/><line x1="382.17" y1="533.43" x2="378.77" y2="528.36"/><line x1="378.76" y1="519.88" x2="382.07" y2="525.00"/><line x1="385.92" y1="530.96" x2="382.61" y2="525.84"/><line x1="382.73" y1="517.36" x2="385.96" y2="522.53"/><line x1="389.72" y1="528.55" x2="386.49" y2="523.38"/><line x1="386.74" y1="514.90" x2="389.89" y2="520.12"/><line x1="393.55" y1="526.21" x2="390.40" y2="520.98"/><line x1="390.79" y1="512.50" x2="393.85" y2="517.78"/><line x1="397.42" y1="523.92" x2="394.35" y2="518.64"/><line x1="394.88" y1="510.17" x2="397.86" y2="515.50"/><line x1="401.32" y1="521.69" x2="398.34" y2="516.37"/><line x1="399.00" y1="507.91" x2="401.89" y2="513.28"/><line x1="405.26" y1="519.53" x2="402.37" y2="514.16"/><line x1="403.16" y1="505.71" x2="405.97" y2="511.13"/><line x1="409.24" y1="517.43" x2="406.43" y2="512.01"/><line x1="407.36" y1="503.58" x2="410.08" y2="509.04"/><line x1="413.24" y1="515.39" x2="410.52" y2="509.93"/><line x1="411.58" y1="501.51" x2="414.22" y2="507.02"/><line x1="417.28" y1="513.42" x2="414.65" y2="507.92"/><line x1="415.84" y1="499.52" x2="418.39" y2="505.06"/><line x1="421.35" y1="511.51" x2="418.81" y2="505.97"/><line x1="420.14" y1="497.59" x2="422.59" y2="503.17"/><line x1="425.45" y1="509.67" x2="423.00" y2="504.09"/><line x1="424.46" y1="495.73" x2="426.83" y2="501.35"/><line x1="429.58" y1="507.89" x2="427.21" y2="502.27"/><line x1="428.81" y1="493.94" x2="431.09" y2="499.60"/><line x1="433.74" y1="506.18" x2="431.46" y2="500.52"/><line x1="433.19" y1="492.22" x2="435.37" y2="497.91"/><line x1="437.92" y1="504.54" x2="435.73" y2="498.84"/><line x1="437.59" y1="490.56" x2="439.69" y2="496.29"/><line x1="442.13" y1="502.96" x2="440.03" y2="497.23"/><line x1="442.03" y1="488.98" x2="444.03" y2="494.74"/><line x1="446.36" y1="501.45" x2="444.36" y2="495.69"/><line x1="446.48" y1="487.47" x2="448.39" y2="493.27"/><line x1="450.62" y1="500.01" x2="448.71" y2="494.21"/><line x1="450.96" y1="486.03" x2="452.78" y2="491.86"/><line x1="454.90" y1="498.63" x2="453.08" y2="492.81"/><line x1="455.46" y1="484.67" x2="457.19" y2="490.52"/><line x1="459.20" y1="497.33" x2="457.47" y2="491.48"/><line x1="459.99" y1="483.37" x2="461.62" y2="489.25"/><line x1="463.52" y1="496.09" x2="461.89" y2="490.21"/><line x1="464.53" y1="482.15" x2="466.07" y2="488.05"/><line x1="467.86" y1="494.92" x2="466.32" y2="489.02"/><line x1="469.09" y1="481.00" x2="470.54" y2="486.92"/><line x1="472.22" y1="493.82" x2="470.77" y2="487.90"/><line x1="473.67" y1="479.92" x2="475.02" y2="485.87"/><line x1="476.59" y1="492.79" x2="475.24" y2="486.84"/><line x1="478.27" y1="478.91" x2="479.52" y2="484.88"/><line x1="480.98" y1="491.83" x2="479.73" y2="485.86"/><line x1="482.88" y1="477.98" x2="484.04" y2="483.97"/><line x1="485.39" y1="490.94" x2="484.23" y2="484.95"/><line x1="487.51" y1="477.13" x2="488.57" y2="483.13"/><line x1="489.81" y1="490.12" x2="488.75" y2="484.12"/><line x1="492.15" y1="476.34" x2="493.12" y2="482.36"/><line x1="494.24" y1="489.37" x2="493.27" y2="483.35"/><line x1="496.80" y1="475.63" x2="497.67" y2="481.67"/><line x1="498.69" y1="488.70" x2="497.81" y2="482.66"/><line x1="501.46" y1="475.00" x2="502.24" y2="481.05"/><line x1="503.14" y1="488.09" x2="502.36" y2="482.04"/><line x1="506.13" y1="474.44" x2="506.81" y2="480.50"/><line x1="507.60" y1="487.55" x2="506.92" y2="481.49"/><line x1="510.81" y1="473.95" x2="511.39" y2="480.02"/><line x1="512.07" y1="487.09" x2="511.49" y2="481.02"/><line x1="515.50" y1="473.54" x2="515.98" y2="479.62"/><line x1="516.55" y1="486.70" x2="516.06" y2="480.61"/><line x1="520.19" y1="473.20" x2="520.58" y2="479.29"/><line x1="521.03" y1="486.37" x2="520.64" y2="480.29"/><line x1="524.89" y1="472.94" x2="525.18" y2="479.03"/><line x1="525.52" y1="486.12" x2="525.23" y2="480.03"/><line x1="529.59" y1="472.75" x2="529.79" y2="478.85"/><line x1="530.01" y1="485.94" x2="529.82" y2="479.85"/><line x1="534.30" y1="472.64" x2="534.39" y2="478.74"/><line x1="534.51" y1="485.84" x2="534.41" y2="479.74"/><line x1="539.00" y1="472.60" x2="539.00" y2="478.70"/><line x1="539.00" y1="485.80" x2="539.00" y2="479.70"/><line x1="543.70" y1="472.64" x2="543.61" y2="478.74"/><line x1="543.49" y1="485.84" x2="543.59" y2="479.74"/><line x1="548.41" y1="472.75" x2="548.21" y2="478.85"/><line x1="547.99" y1="485.94" x2="548.18" y2="479.85"/><line x1="553.11" y1="472.94" x2="552.82" y2="479.03"/><line x1="552.48" y1="486.12" x2="552.77" y2="480.03"/><line x1="557.81" y1="473.20" x2="557.42" y2="479.29"/><line x1="556.97" y1="486.37" x2="557.36" y2="480.29"/><line x1="562.50" y1="473.54" x2="562.02" y2="479.62"/><line x1="561.45" y1="486.70" x2="561.94" y2="480.61"/><line x1="567.19" y1="473.95" x2="566.61" y2="480.02"/><line x1="565.93" y1="487.09" x2="566.51" y2="481.02"/><line x1="571.87" y1="474.44" x2="571.19" y2="480.50"/><line x1="570.40" y1="487.55" x2="571.08" y2="481.49"/><line x1="576.54" y1="475.00" x2="575.76" y2="481.05"/><line x1="574.86" y1="488.09" x2="575.64" y2="482.04"/><line x1="581.20" y1="475.63" x2="580.33" y2="481.67"/><line x1="579.31" y1="488.70" x2="580.19" y2="482.66"/><line x1="585.85" y1="476.34" x2="584.88" y2="482.36"/><line x1="583.76" y1="489.37" x2="584.73" y2="483.35"/><line x1="590.49" y1="477.13" x2="589.43" y2="483.13"/><line x1="588.19" y1="490.12" x2="589.25" y2="484.12"/><line x1="595.12" y1="477.98" x2="593.96" y2="483.97"/><line x1="592.61" y1="490.94" x2="593.77" y2="484.95"/><line x1="599.73" y1="478.91" x2="598.48" y2="484.88"/><line x1="597.02" y1="491.83" x2="598.27" y2="485.86"/><line x1="604.33" y1="479.92" x2="602.98" y2="485.87"/><line x1="601.41" y1="492.79" x2="602.76" y2="486.84"/><line x1="608.91" y1="481.00" x2="607.46" y2="486.92"/><line x1="605.78" y1="493.82" x2="607.23" y2="487.90"/><line x1="613.47" y1="482.15" x2="611.93" y2="488.05"/><line x1="610.14" y1="494.92" x2="611.68" y2="489.02"/><line x1="618.01" y1="483.37" x2="616.38" y2="489.25"/><line x1="614.48" y1="496.09" x2="616.11" y2="490.21"/><line x1="622.54" y1="484.67" x2="620.81" y2="490.52"/><line x1="618.80" y1="497.33" x2="620.53" y2="491.48"/><line x1="627.04" y1="486.03" x2="625.22" y2="491.86"/><line x1="623.10" y1="498.63" x2="624.92" y2="492.81"/><line x1="631.52" y1="487.47" x2="629.61" y2="493.27"/><line x1="627.38" y1="500.01" x2="629.29" y2="494.21"/><line x1="635.97" y1="488.98" x2="633.97" y2="494.74"/><line x1="631.64" y1="501.45" x2="633.64" y2="495.69"/><line x1="640.41" y1="490.56" x2="638.31" y2="496.29"/><line x1="635.87" y1="502.96" x2="637.97" y2="497.23"/><line x1="644.81" y1="492.22" x2="642.63" y2="497.91"/><line x1="640.08" y1="504.54" x2="642.27" y2="498.84"/><line x1="649.19" y1="493.94" x2="646.91" y2="499.60"/><line x1="644.26" y1="506.18" x2="646.54" y2="500.52"/><line x1="653.54" y1="495.73" x2="651.17" y2="501.35"/><line x1="648.42" y1="507.89" x2="650.79" y2="502.27"/><line x1="657.86" y1="497.59" x2="655.41" y2="503.17"/><line x1="652.55" y1="509.67" x2="655.00" y2="504.09"/><line x1="662.16" y1="499.52" x2="659.61" y2="505.06"/><line x1="656.65" y1="511.51" x2="659.19" y2="505.97"/><line x1="666.42" y1="501.51" x2="663.78" y2="507.02"/><line x1="660.72" y1="513.42" x2="663.35" y2="507.92"/><line x1="670.64" y1="503.58" x2="667.92" y2="509.04"/><line x1="664.76" y1="515.39" x2="667.48" y2="509.93"/><line x1="674.84" y1="505.71" x2="672.03" y2="511.13"/><line x1="668.76" y1="517.43" x2="671.57" y2="512.01"/><line x1="679.00" y1="507.91" x2="676.11" y2="513.28"/><line x1="672.74" y1="519.53" x2="675.63" y2="514.16"/><line x1="683.12" y1="510.17" x2="680.14" y2="515.50"/><line x1="676.68" y1="521.69" x2="679.66" y2="516.37"/><line x1="687.21" y1="512.50" x2="684.15" y2="517.78"/><line x1="680.58" y1="523.92" x2="683.65" y2="518.64"/><line x1="691.26" y1="514.90" x2="688.11" y2="520.12"/><line x1="684.45" y1="526.21" x2="687.60" y2="520.98"/><line x1="695.27" y1="517.36" x2="692.04" y2="522.53"/><line x1="688.28" y1="528.55" x2="691.51" y2="523.38"/><line x1="699.24" y1="519.88" x2="695.93" y2="525.00"/><line x1="692.08" y1="530.96" x2="695.39" y2="525.84"/><line x1="703.17" y1="522.46" x2="699.78" y2="527.53"/><line x1="695.83" y1="533.43" x2="699.23" y2="528.36"/></g>
<g fill="#727272"><circle cx="374.83" cy="522.46" r="2"/><circle cx="382.17" cy="533.43" r="2"/><circle cx="378.76" cy="519.88" r="2"/><circle cx="385.92" cy="530.96" r="2"/><circle cx="382.73" cy="517.36" r="2"/><circle cx="389.72" cy="528.55" r="2"/><circle cx="386.74" cy="514.90" r="2"/><circle cx="393.55" cy="526.21" r="2"/><circle cx="390.79" cy="512.50" r="2"/><circle cx="397.42" cy="523.92" r="2"/><circle cx="394.88" cy="510.17" r="2"/><circle cx="401.32" cy="521.69" r="2"/><circle cx="399.00" cy="507.91" r="2"/><circle cx="405.26" cy="519.53" r="2"/><circle cx="403.16" cy="505.71" r="2"/><circle cx="409.24" cy="517.43" r="2"/><circle cx="407.36" cy="503.58" r="2"/><circle cx="413.24" cy="515.39" r="2"/><circle cx="411.58" cy="501.51" r="2"/><circle cx="417.28" cy="513.42" r="2"/><circle cx="415.84" cy="499.52" r="2"/><circle cx="421.35" cy="511.51" r="2"/><circle cx="420.14" cy="497.59" r="2"/><circle cx="425.45" cy="509.67" r="2"/><circle cx="424.46" cy="495.73" r="2"/><circle cx="429.58" cy="507.89" r="2"/><circle cx="428.81" cy="493.94" r="2"/><circle cx="433.74" cy="506.18" r="2"/><circle cx="433.19" cy="492.22" r="2"/><circle cx="437.92" cy="504.54" r="2"/><circle cx="437.59" cy="490.56" r="2"/><circle cx="442.13" cy="502.96" r="2"/><circle cx="442.03" cy="488.98" r="2"/><circle cx="446.36" cy="501.45" r="2"/><circle cx="446.48" cy="487.47" r="2"/><circle cx="450.62" cy="500.01" r="2"/><circle cx="450.96" cy="486.03" r="2"/><circle cx="454.90" cy="498.63" r="2"/><circle cx="455.46" cy="484.67" r="2"/><circle cx="459.20" cy="497.33" r="2"/><circle cx="459.99" cy="483.37" r="2"/><circle cx="463.52" cy="496.09" r="2"/><circle cx="464.53" cy="482.15" r="2"/><circle cx="467.86" cy="494.92" r="2"/><circle cx="469.09" cy="481.00" r="2"/><circle cx="472.22" cy="493.82" r="2"/><circle cx="473.67" cy="479.92" r="2"/><circle cx="476.59" cy="492.79" r="2"/><circle cx="478.27" cy="478.91" r="2"/><circle cx="480.98" cy="491.83" r="2"/><circle cx="482.88" cy="477.98" r="2"/><circle cx="485.39" cy="490.94" r="2"/><circle cx="487.51" cy="477.13" r="2"/><circle cx="489.81" cy="490.12" r="2"/><circle cx="492.15" cy="476.34" r="2"/><circle cx="494.24" cy="489.37" r="2"/><circle cx="496.80" cy="475.63" r="2"/><circle cx="498.69" cy="488.70" r="2"/><circle cx="501.46" cy="475.00" r="2"/><circle cx="503.14" cy="488.09" r="2"/><circle cx="506.13" cy="474.44" r="2"/><circle cx="507.60" cy="487.55" r="2"/><circle cx="510.81" cy="473.95" r="2"/><circle cx="512.07" cy="487.09" r="2"/><circle cx="515.50" cy="473.54" r="2"/><circle cx="516.55" cy="486.70" r="2"/><circle cx="520.19" cy="473.20" r="2"/><circle cx="521.03" cy="486.37" r="2"/><circle cx="524.89" cy="472.94" r="2"/><circle cx="525.52" cy="486.12" r="2"/><circle cx="529.59" cy="472.75" r="2"/><circle cx="530.01" cy="485.94" r="2"/><circle cx="534.30" cy="472.64" r="2"/><circle cx="534.51" cy="485.84" r="2"/><circle cx="539.00" cy="472.60" r="2"/><circle cx="539.00" cy="485.80" r="2"/><circle cx="543.70" cy="472.64" r="2"/><circle cx="543.49" cy="485.84" r="2"/><circle cx="548.41" cy="472.75" r="2"/><circle cx="547.99" cy="485.94" r="2"/><circle cx="553.11" cy="472.94" r="2"/><circle cx="552.48" cy="486.12" r="2"/><circle cx="557.81" cy="473.20" r="2"/><circle cx="556.97" cy="486.37" r="2"/><circle cx="562.50" cy="473.54" r="2"/><circle cx="561.45" cy="486.70" r="2"/><circle cx="567.19" cy="473.95" r="2"/><circle cx="565.93" cy="487.09" r="2"/><circle cx="571.87" cy="474.44" r="2"/><circle cx="570.40" cy="487.55" r="2"/><circle cx="576.54" cy="475.00" r="2"/><circle cx="574.86" cy="488.09" r="2"/><circle cx="581.20" cy="475.63" r="2"/><circle cx="579.31" cy="488.70" r="2"/><circle cx="585.85" cy="476.34" r="2"/><circle cx="583.76" cy="489.37" r="2"/><circle cx="590.49" cy="477.13" r="2"/><circle cx="588.19" cy="490.12" r="2"/><circle cx="595.12" cy="477.98" r="2"/><circle cx="592.61" cy="490.94" r="2"/><circle cx="599.73" cy="478.91" r="2"/><circle cx="597.02" cy="491.83" r="2"/><circle cx="604.33" cy="479.92" r="2"/><circle cx="601.41" cy="492.79" r="2"/><circle cx="608.91" cy="481.00" r="2"/><circle cx="605.78" cy="493.82" r="2"/><circle cx="613.47" cy="482.15" r="2"/><circle cx="610.14" cy="494.92" r="2"/><circle cx="618.01" cy="483.37" r="2"/><circle cx="614.48" cy="496.09" r="2"/><circle cx="622.54" cy="484.67" r="2"/><circle cx="618.80" cy="497.33" r="2"/><circle cx="627.04" cy="486.03" r="2"/><circle cx="623.10" cy="498.63" r="2"/><circle cx="631.52" cy="487.47" r="2"/><circle cx="627.38" cy="500.01" r="2"/><circle cx="635.97" cy="488.98" r="2"/><circle cx="631.64" cy="501.45" r="2"/><circle cx="640.41" cy="490.56" r="2"/><circle cx="635.87" cy="502.96" r="2"/><circle cx="644.81" cy="492.22" r="2"/><circle cx="640.08" cy="504.54" r="2"/><circle cx="649.19" cy="493.94" r="2"/><circle cx="644.26" cy="506.18" r="2"/><circle cx="653.54" cy="495.73" r="2"/><circle cx="648.42" cy="507.89" r="2"/><circle cx="657.86" cy="497.59" r="2"/><circle cx="652.55" cy="509.67" r="2"/><circle cx="662.16" cy="499.52" r="2"/><circle cx="656.65" cy="511.51" r="2"/><circle cx="666.42" cy="501.51" r="2"/><circle cx="660.72" cy="513.42" r="2"/><circle cx="670.64" cy="503.58" r="2"/><circle cx="664.76" cy="515.39" r="2"/><circle cx="674.84" cy="505.71" r="2"/><circle cx="668.76" cy="517.43" r="2"/><circle cx="679.00" cy="507.91" r="2"/><circle cx="672.74" cy="519.53" r="2"/><circle cx="683.12" cy="510.17" r="2"/><circle cx="676.68" cy="521.69" r="2"/><circle cx="687.21" cy="512.50" r="2"/><circle cx="680.58" cy="523.92" r="2"/><circle cx="691.26" cy="514.90" r="2"/><circle cx="684.45" cy="526.21" r="2"/><circle cx="695.27" cy="517.36" r="2"/><circle cx="688.28" cy="528.55" r="2"/><circle cx="699.24" cy="519.88" r="2"/><circle cx="692.08" cy="530.96" r="2"/><circle cx="703.17" cy="522.46" r="2"/><circle cx="695.83" cy="533.43" r="2"/></g>
</g>
<text x="518.01" y="522.00" font-size="19.4" letter-spacing="2.121" fill="#231f20" >Cell</text>
<polyline points="434.7,444.2 436.2,438.0 428.3,434.8 433.0,427.7 425.0,424.5 429.7,417.4 421.8,414.2 423.3,408.0" fill="none" stroke="#9c2080" stroke-width="2"/>
<rect x="418.5" y="487.3" width="6" height="11" rx="1.5" transform="rotate(-23 421.5 492.8)" fill="#ee8a24"/>
<rect x="447.3" y="487.3" width="6" height="11" rx="1.5" transform="rotate(-18 450.3 492.8)" fill="#ee8a24"/>
<rect x="469.7" y="470.0" width="6" height="11" rx="1.5" transform="rotate(-14 472.7 475.5)" fill="#ee8a24"/>
<line x1="419.7" y1="486.6" x2="471.8" y2="470.7" stroke="#7391c5" stroke-width="5.6" stroke-linecap="round"/>
<line x1="434.7" y1="444.2" x2="419.7" y2="486.6" stroke="#7391c5" stroke-width="5.6" stroke-linecap="round"/>
<line x1="434.7" y1="444.2" x2="471.8" y2="470.7" stroke="#7391c5" stroke-width="5.6" stroke-linecap="round"/>
<line x1="419.7" y1="486.6" x2="448.9" y2="487.5" stroke="#7391c5" stroke-width="5.6" stroke-linecap="round"/>
<line x1="471.8" y1="470.7" x2="448.9" y2="487.5" stroke="#7391c5" stroke-width="5.6" stroke-linecap="round"/>
<line x1="434.7" y1="444.2" x2="448.9" y2="487.5" stroke="#7391c5" stroke-width="5.6" stroke-linecap="round"/>
<line x1="419.7" y1="486.6" x2="471.8" y2="470.7" stroke="#b7caee" stroke-width="1.7" stroke-linecap="round"/>
<line x1="434.7" y1="444.2" x2="419.7" y2="486.6" stroke="#b7caee" stroke-width="1.7" stroke-linecap="round"/>
<line x1="434.7" y1="444.2" x2="471.8" y2="470.7" stroke="#b7caee" stroke-width="1.7" stroke-linecap="round"/>
<line x1="419.7" y1="486.6" x2="448.9" y2="487.5" stroke="#b7caee" stroke-width="1.7" stroke-linecap="round"/>
<line x1="471.8" y1="470.7" x2="448.9" y2="487.5" stroke="#b7caee" stroke-width="1.7" stroke-linecap="round"/>
<line x1="434.7" y1="444.2" x2="448.9" y2="487.5" stroke="#b7caee" stroke-width="1.7" stroke-linecap="round"/>
<polyline points="539.8,420.1 543.1,414.1 536.5,408.1 543.1,402.1 536.5,396.2 543.1,390.2 536.5,384.2 539.8,378.2" fill="none" stroke="#9c2080" stroke-width="2"/>
<rect x="506.3" y="461.5" width="6" height="11" rx="1.5" transform="rotate(0 509.3 467)" fill="#ee8a24"/>
<rect x="565.9" y="461.5" width="6" height="11" rx="1.5" transform="rotate(0 568.9 467)" fill="#ee8a24"/>
<rect x="536.8" y="470.0" width="6" height="11" rx="1.5" transform="rotate(0 539.8 475.5)" fill="#ee8a24"/>
<line x1="508.7" y1="460.9" x2="569.9" y2="460.9" stroke="#7391c5" stroke-width="5.6" stroke-linecap="round"/>
<line x1="539.8" y1="420.1" x2="508.7" y2="460.9" stroke="#7391c5" stroke-width="5.6" stroke-linecap="round"/>
<line x1="539.8" y1="420.1" x2="569.9" y2="460.9" stroke="#7391c5" stroke-width="5.6" stroke-linecap="round"/>
<line x1="508.7" y1="460.9" x2="539.8" y2="469" stroke="#7391c5" stroke-width="5.6" stroke-linecap="round"/>
<line x1="569.9" y1="460.9" x2="539.8" y2="469" stroke="#7391c5" stroke-width="5.6" stroke-linecap="round"/>
<line x1="539.8" y1="420.1" x2="539.8" y2="469" stroke="#7391c5" stroke-width="5.6" stroke-linecap="round"/>
<line x1="508.7" y1="460.9" x2="569.9" y2="460.9" stroke="#b7caee" stroke-width="1.7" stroke-linecap="round"/>
<line x1="539.8" y1="420.1" x2="508.7" y2="460.9" stroke="#b7caee" stroke-width="1.7" stroke-linecap="round"/>
<line x1="539.8" y1="420.1" x2="569.9" y2="460.9" stroke="#b7caee" stroke-width="1.7" stroke-linecap="round"/>
<line x1="508.7" y1="460.9" x2="539.8" y2="469" stroke="#b7caee" stroke-width="1.7" stroke-linecap="round"/>
<line x1="569.9" y1="460.9" x2="539.8" y2="469" stroke="#b7caee" stroke-width="1.7" stroke-linecap="round"/>
<line x1="539.8" y1="420.1" x2="539.8" y2="469" stroke="#b7caee" stroke-width="1.7" stroke-linecap="round"/>
<polyline points="643.0,445.0 648.0,441.0 643.7,433.5 651.8,430.6 647.5,423.2 655.6,420.3 651.3,412.8 656.3,408.8" fill="none" stroke="#9c2080" stroke-width="2"/>
<rect x="653.3" y="488.1" width="6" height="11" rx="1.5" transform="rotate(23 656.3 493.6)" fill="#ee8a24"/>
<rect x="625" y="488.1" width="6" height="11" rx="1.5" transform="rotate(18 628 493.6)" fill="#ee8a24"/>
<rect x="602.9" y="471.0" width="6" height="11" rx="1.5" transform="rotate(14 605.9 476.5)" fill="#ee8a24"/>
<line x1="658" y1="487.5" x2="606.8" y2="470.7" stroke="#7391c5" stroke-width="5.6" stroke-linecap="round"/>
<line x1="643" y1="445" x2="658" y2="487.5" stroke="#7391c5" stroke-width="5.6" stroke-linecap="round"/>
<line x1="643" y1="445" x2="606.8" y2="470.7" stroke="#7391c5" stroke-width="5.6" stroke-linecap="round"/>
<line x1="658" y1="487.5" x2="629.8" y2="487.5" stroke="#7391c5" stroke-width="5.6" stroke-linecap="round"/>
<line x1="606.8" y1="470.7" x2="629.8" y2="487.5" stroke="#7391c5" stroke-width="5.6" stroke-linecap="round"/>
<line x1="643" y1="445" x2="629.8" y2="487.5" stroke="#7391c5" stroke-width="5.6" stroke-linecap="round"/>
<line x1="658" y1="487.5" x2="606.8" y2="470.7" stroke="#b7caee" stroke-width="1.7" stroke-linecap="round"/>
<line x1="643" y1="445" x2="658" y2="487.5" stroke="#b7caee" stroke-width="1.7" stroke-linecap="round"/>
<line x1="643" y1="445" x2="606.8" y2="470.7" stroke="#b7caee" stroke-width="1.7" stroke-linecap="round"/>
<line x1="658" y1="487.5" x2="629.8" y2="487.5" stroke="#b7caee" stroke-width="1.7" stroke-linecap="round"/>
<line x1="606.8" y1="470.7" x2="629.8" y2="487.5" stroke="#b7caee" stroke-width="1.7" stroke-linecap="round"/>
<line x1="643" y1="445" x2="629.8" y2="487.5" stroke="#b7caee" stroke-width="1.7" stroke-linecap="round"/>
<text x="739.71" y="423.30" font-size="19.4" letter-spacing="1.859" fill="#231f20" >DNA-encoded</text>
<text x="747.01" y="446.20" font-size="19.4" letter-spacing="1.668" word-spacing="-3.43" fill="#231f20" >recipient cell</text>
<rect x="750" y="502" width="15" height="6" fill="#e6067f"/>
<path d="M736.5,486 A19,19 0 0 1 736.5,524 L736.5,517 A12,12 0 0 0 736.5,493 Z" fill="#e6067f"/>
<rect x="764" y="462" width="101.39999999999998" height="86.20000000000005" rx="16" fill="#e7e6f3" stroke="#2e2a2e" stroke-width="1.3"/>
<ellipse cx="814" cy="505" rx="27.8" ry="16.8" fill="#cfcee6"/>
<text x="789.41" y="514.30" font-size="25.5" letter-spacing="1.724" fill="#211d33" >Cell</text>
</svg>
</body></html>
